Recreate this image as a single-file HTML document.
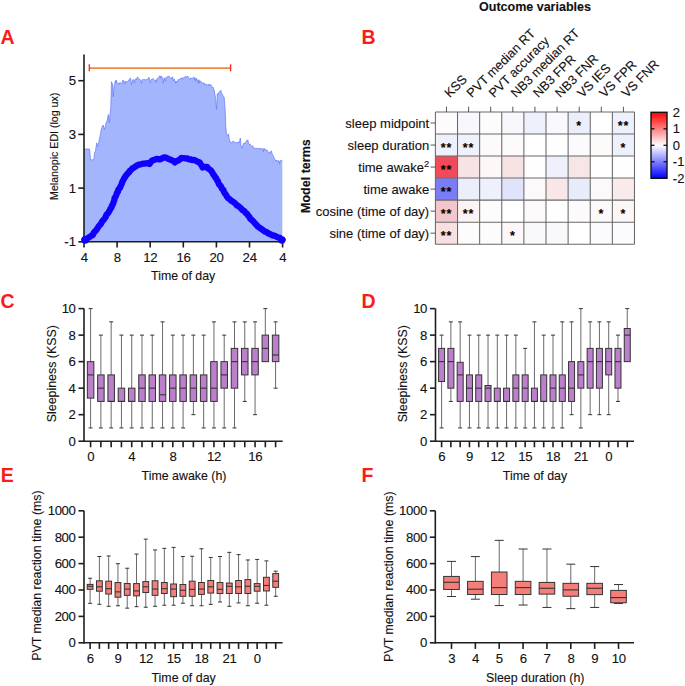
<!DOCTYPE html>
<html><head><meta charset="utf-8"><style>html,body{margin:0;padding:0;background:#fff;}svg{display:block;}text{font-family:"Liberation Sans",sans-serif;stroke:#111;stroke-width:0.12px;paint-order:stroke;}</style></head>
<body><svg width="685" height="686" viewBox="0 0 685 686">
<rect width="685" height="686" fill="#fff"/>
<text x="0.60" y="43.85" font-size="19.5" text-anchor="start" font-weight="bold" fill="#ff1a1a" style="stroke:none">A</text>
<g transform="translate(0,0.8)">
<polygon points="84.00,148.20 84.50,148.20 85.00,148.20 85.50,148.20 86.00,148.20 86.50,148.20 87.00,148.20 87.50,148.20 88.00,148.20 88.50,148.20 89.00,148.20 89.50,148.20 90.05,153.60 90.60,159.00 91.13,159.00 91.67,159.00 92.20,159.00 92.73,159.00 93.27,159.00 93.80,159.00 94.50,152.40 95.00,150.91 95.50,149.80 96.15,145.87 96.80,142.00 97.50,146.00 98.00,145.28 98.50,143.20 99.00,140.38 99.50,138.00 100.00,135.63 100.50,132.70 101.00,130.18 101.50,127.50 102.07,126.41 102.63,125.03 103.20,124.20 103.85,126.55 104.50,128.80 105.00,126.71 105.50,124.61 106.00,122.20 106.50,121.11 107.00,120.05 107.50,118.00 108.40,113.70 109.30,122.00 110.00,114.00 110.80,106.50 111.50,80.90 112.00,82.63 112.50,82.90 113.30,96.00 114.00,85.50 114.50,83.66 115.00,81.77 115.50,79.60 116.00,82.35 116.50,79.60 117.00,81.78 117.50,82.74 118.00,83.50 118.50,82.65 119.00,83.55 119.50,82.03 120.00,81.81 120.50,82.11 121.00,82.20 121.50,82.52 122.00,82.00 122.50,79.79 123.00,80.00 123.50,79.41 124.00,80.33 124.50,83.30 125.00,81.00 125.50,80.61 126.00,81.61 126.50,80.78 127.00,80.80 127.50,80.61 128.00,80.01 128.50,80.24 129.00,79.00 129.50,78.31 130.00,77.39 130.50,77.30 131.00,80.94 131.50,84.00 132.00,81.53 132.50,79.00 133.00,79.18 133.50,78.80 134.00,80.00 134.50,82.31 135.00,78.94 135.50,78.23 136.00,78.00 136.50,79.05 137.00,77.25 137.50,76.40 138.00,76.49 138.50,77.63 139.00,78.00 139.50,78.26 140.00,78.76 140.50,79.14 141.00,80.00 141.50,82.66 142.00,79.92 142.50,78.75 143.00,79.00 143.50,78.65 144.00,79.13 144.50,78.66 145.00,79.50 145.50,79.05 146.00,79.09 146.50,78.45 147.00,79.17 147.50,78.66 148.00,78.60 148.50,76.82 149.00,76.40 149.50,79.01 150.00,82.00 150.50,81.11 151.00,79.00 151.50,78.35 152.00,78.76 152.50,77.97 153.00,78.00 153.50,78.13 154.00,78.59 154.50,79.35 155.00,80.00 155.50,79.34 156.00,81.74 156.50,79.18 157.00,78.00 157.50,77.38 158.00,77.77 158.50,76.94 159.00,76.29 159.50,75.12 160.00,75.00 160.50,77.36 161.00,75.37 161.50,75.31 162.00,76.50 162.65,79.62 163.30,82.50 164.00,77.00 164.50,78.11 165.00,77.80 165.57,80.37 166.13,76.34 166.70,76.79 167.27,75.91 167.83,75.84 168.40,75.20 168.92,75.31 169.44,76.28 169.96,76.61 170.48,77.50 171.00,78.00 171.50,76.74 172.00,77.43 172.50,76.00 173.00,79.95 173.50,79.93 174.00,77.98 174.50,79.06 175.00,80.00 175.50,82.30 176.00,80.66 176.50,82.00 177.00,80.22 177.50,80.64 178.00,79.00 178.50,78.75 179.00,78.17 179.50,78.51 180.00,78.00 180.50,77.58 181.00,77.36 181.50,77.60 182.00,78.56 182.50,76.94 183.00,77.00 183.50,77.26 184.00,77.04 184.50,76.13 185.00,76.00 185.50,75.99 186.00,75.86 186.50,75.93 187.00,76.06 187.50,75.23 188.00,76.00 188.50,76.53 189.00,78.12 189.50,78.00 190.00,78.57 190.50,77.29 191.00,76.89 191.50,77.72 192.00,77.81 192.50,77.56 193.00,77.00 193.50,76.45 194.00,76.44 194.50,79.22 195.00,76.95 195.50,80.36 196.00,78.00 196.50,77.57 197.00,78.81 197.50,79.56 198.00,82.46 198.50,79.27 199.00,78.79 199.50,82.34 200.00,80.00 200.50,80.62 201.00,80.54 201.50,81.05 202.00,82.00 202.50,82.62 203.00,82.09 203.50,82.23 204.00,81.92 204.50,83.68 205.00,83.00 205.50,83.61 206.00,83.68 206.50,83.81 207.00,83.64 207.50,84.55 208.00,84.00 208.50,83.27 209.00,84.75 209.50,83.90 210.00,83.43 210.50,84.00 211.00,84.13 211.50,85.00 212.00,86.00 212.50,86.68 213.00,86.30 213.50,87.00 214.00,88.95 214.50,91.00 215.10,94.90 215.70,98.70 216.60,108.60 217.30,93.00 217.87,94.36 218.43,92.12 219.00,92.00 219.60,90.92 220.20,90.83 220.80,89.50 221.40,92.13 222.00,93.00 222.55,94.08 223.10,95.40 223.65,95.80 224.20,96.60 224.70,103.43 225.20,110.00 225.70,125.00 226.50,133.20 227.00,133.92 227.50,135.00 228.00,134.83 228.50,133.00 229.20,138.30 230.00,141.00 230.50,141.01 231.00,142.00 231.60,142.02 232.20,142.08 232.80,140.41 233.40,140.50 233.95,140.57 234.50,141.50 235.00,141.87 235.50,142.22 236.00,141.50 236.50,142.32 237.00,141.70 237.50,142.00 238.03,141.00 238.55,142.10 239.07,140.99 239.60,141.00 240.30,137.30 241.00,145.00 241.80,146.50 242.37,147.49 242.93,144.05 243.50,143.00 244.00,142.14 244.50,143.15 245.00,142.00 245.50,141.58 246.00,141.00 246.50,139.84 247.00,139.50 247.50,139.05 248.00,140.00 248.50,142.50 249.00,143.40 249.50,143.63 250.00,143.00 250.50,144.74 251.00,145.50 251.50,144.97 252.00,145.44 252.50,145.00 253.00,145.58 253.50,147.00 254.00,148.00 254.50,147.40 255.00,147.50 255.50,147.52 256.00,147.96 256.50,147.73 257.00,147.91 257.50,147.10 258.00,147.99 258.50,148.53 259.00,147.48 259.50,148.00 260.00,148.12 260.50,147.56 261.00,147.15 261.50,148.42 262.00,148.00 262.50,148.49 263.00,147.70 263.50,151.12 264.00,147.79 264.50,148.05 265.00,148.20 265.50,148.93 266.00,148.50 266.50,149.75 267.00,149.34 267.50,149.68 268.00,151.00 268.50,152.41 269.00,153.00 269.50,151.44 270.00,151.00 270.50,151.10 271.00,150.78 271.50,150.00 272.00,153.00 272.50,153.36 273.00,155.00 273.50,155.45 274.00,157.00 274.50,158.12 275.00,158.55 275.50,160.00 276.00,159.15 276.50,160.70 277.00,159.79 277.50,160.15 278.00,160.86 278.50,159.64 279.00,159.97 279.50,163.33 280.00,160.29 280.50,160.04 281.00,160.00 281.65,159.20 282.30,159.50 282.30,241.00 84.00,241.00" fill="#a2b5fd" stroke="none"/>
<polyline points="84.00,148.20 84.50,148.20 85.00,148.20 85.50,148.20 86.00,148.20 86.50,148.20 87.00,148.20 87.50,148.20 88.00,148.20 88.50,148.20 89.00,148.20 89.50,148.20 90.05,153.60 90.60,159.00 91.13,159.00 91.67,159.00 92.20,159.00 92.73,159.00 93.27,159.00 93.80,159.00 94.50,152.40 95.00,150.91 95.50,149.80 96.15,145.87 96.80,142.00 97.50,146.00 98.00,145.28 98.50,143.20 99.00,140.38 99.50,138.00 100.00,135.63 100.50,132.70 101.00,130.18 101.50,127.50 102.07,126.41 102.63,125.03 103.20,124.20 103.85,126.55 104.50,128.80 105.00,126.71 105.50,124.61 106.00,122.20 106.50,121.11 107.00,120.05 107.50,118.00 108.40,113.70 109.30,122.00 110.00,114.00 110.80,106.50 111.50,80.90 112.00,82.63 112.50,82.90 113.30,96.00 114.00,85.50 114.50,83.66 115.00,81.77 115.50,79.60 116.00,82.35 116.50,79.60 117.00,81.78 117.50,82.74 118.00,83.50 118.50,82.65 119.00,83.55 119.50,82.03 120.00,81.81 120.50,82.11 121.00,82.20 121.50,82.52 122.00,82.00 122.50,79.79 123.00,80.00 123.50,79.41 124.00,80.33 124.50,83.30 125.00,81.00 125.50,80.61 126.00,81.61 126.50,80.78 127.00,80.80 127.50,80.61 128.00,80.01 128.50,80.24 129.00,79.00 129.50,78.31 130.00,77.39 130.50,77.30 131.00,80.94 131.50,84.00 132.00,81.53 132.50,79.00 133.00,79.18 133.50,78.80 134.00,80.00 134.50,82.31 135.00,78.94 135.50,78.23 136.00,78.00 136.50,79.05 137.00,77.25 137.50,76.40 138.00,76.49 138.50,77.63 139.00,78.00 139.50,78.26 140.00,78.76 140.50,79.14 141.00,80.00 141.50,82.66 142.00,79.92 142.50,78.75 143.00,79.00 143.50,78.65 144.00,79.13 144.50,78.66 145.00,79.50 145.50,79.05 146.00,79.09 146.50,78.45 147.00,79.17 147.50,78.66 148.00,78.60 148.50,76.82 149.00,76.40 149.50,79.01 150.00,82.00 150.50,81.11 151.00,79.00 151.50,78.35 152.00,78.76 152.50,77.97 153.00,78.00 153.50,78.13 154.00,78.59 154.50,79.35 155.00,80.00 155.50,79.34 156.00,81.74 156.50,79.18 157.00,78.00 157.50,77.38 158.00,77.77 158.50,76.94 159.00,76.29 159.50,75.12 160.00,75.00 160.50,77.36 161.00,75.37 161.50,75.31 162.00,76.50 162.65,79.62 163.30,82.50 164.00,77.00 164.50,78.11 165.00,77.80 165.57,80.37 166.13,76.34 166.70,76.79 167.27,75.91 167.83,75.84 168.40,75.20 168.92,75.31 169.44,76.28 169.96,76.61 170.48,77.50 171.00,78.00 171.50,76.74 172.00,77.43 172.50,76.00 173.00,79.95 173.50,79.93 174.00,77.98 174.50,79.06 175.00,80.00 175.50,82.30 176.00,80.66 176.50,82.00 177.00,80.22 177.50,80.64 178.00,79.00 178.50,78.75 179.00,78.17 179.50,78.51 180.00,78.00 180.50,77.58 181.00,77.36 181.50,77.60 182.00,78.56 182.50,76.94 183.00,77.00 183.50,77.26 184.00,77.04 184.50,76.13 185.00,76.00 185.50,75.99 186.00,75.86 186.50,75.93 187.00,76.06 187.50,75.23 188.00,76.00 188.50,76.53 189.00,78.12 189.50,78.00 190.00,78.57 190.50,77.29 191.00,76.89 191.50,77.72 192.00,77.81 192.50,77.56 193.00,77.00 193.50,76.45 194.00,76.44 194.50,79.22 195.00,76.95 195.50,80.36 196.00,78.00 196.50,77.57 197.00,78.81 197.50,79.56 198.00,82.46 198.50,79.27 199.00,78.79 199.50,82.34 200.00,80.00 200.50,80.62 201.00,80.54 201.50,81.05 202.00,82.00 202.50,82.62 203.00,82.09 203.50,82.23 204.00,81.92 204.50,83.68 205.00,83.00 205.50,83.61 206.00,83.68 206.50,83.81 207.00,83.64 207.50,84.55 208.00,84.00 208.50,83.27 209.00,84.75 209.50,83.90 210.00,83.43 210.50,84.00 211.00,84.13 211.50,85.00 212.00,86.00 212.50,86.68 213.00,86.30 213.50,87.00 214.00,88.95 214.50,91.00 215.10,94.90 215.70,98.70 216.60,108.60 217.30,93.00 217.87,94.36 218.43,92.12 219.00,92.00 219.60,90.92 220.20,90.83 220.80,89.50 221.40,92.13 222.00,93.00 222.55,94.08 223.10,95.40 223.65,95.80 224.20,96.60 224.70,103.43 225.20,110.00 225.70,125.00 226.50,133.20 227.00,133.92 227.50,135.00 228.00,134.83 228.50,133.00 229.20,138.30 230.00,141.00 230.50,141.01 231.00,142.00 231.60,142.02 232.20,142.08 232.80,140.41 233.40,140.50 233.95,140.57 234.50,141.50 235.00,141.87 235.50,142.22 236.00,141.50 236.50,142.32 237.00,141.70 237.50,142.00 238.03,141.00 238.55,142.10 239.07,140.99 239.60,141.00 240.30,137.30 241.00,145.00 241.80,146.50 242.37,147.49 242.93,144.05 243.50,143.00 244.00,142.14 244.50,143.15 245.00,142.00 245.50,141.58 246.00,141.00 246.50,139.84 247.00,139.50 247.50,139.05 248.00,140.00 248.50,142.50 249.00,143.40 249.50,143.63 250.00,143.00 250.50,144.74 251.00,145.50 251.50,144.97 252.00,145.44 252.50,145.00 253.00,145.58 253.50,147.00 254.00,148.00 254.50,147.40 255.00,147.50 255.50,147.52 256.00,147.96 256.50,147.73 257.00,147.91 257.50,147.10 258.00,147.99 258.50,148.53 259.00,147.48 259.50,148.00 260.00,148.12 260.50,147.56 261.00,147.15 261.50,148.42 262.00,148.00 262.50,148.49 263.00,147.70 263.50,151.12 264.00,147.79 264.50,148.05 265.00,148.20 265.50,148.93 266.00,148.50 266.50,149.75 267.00,149.34 267.50,149.68 268.00,151.00 268.50,152.41 269.00,153.00 269.50,151.44 270.00,151.00 270.50,151.10 271.00,150.78 271.50,150.00 272.00,153.00 272.50,153.36 273.00,155.00 273.50,155.45 274.00,157.00 274.50,158.12 275.00,158.55 275.50,160.00 276.00,159.15 276.50,160.70 277.00,159.79 277.50,160.15 278.00,160.86 278.50,159.64 279.00,159.97 279.50,163.33 280.00,160.29 280.50,160.04 281.00,160.00 281.65,159.20 282.30,159.50" fill="none" stroke="#6a7cf6" stroke-width="0.75"/>
</g>
<line x1="89.30" y1="68.10" x2="230.60" y2="68.10" stroke="#f0883f" stroke-width="1.8"/>
<line x1="89.30" y1="64.30" x2="89.30" y2="71.30" stroke="#ff2020" stroke-width="1.3"/>
<line x1="230.60" y1="64.30" x2="230.60" y2="71.30" stroke="#ff2020" stroke-width="1.3"/>
<line x1="84.00" y1="54.50" x2="84.00" y2="242.45" stroke="#1e1e1e" stroke-width="1.6"/>
<line x1="83.35" y1="241.80" x2="283.25" y2="241.80" stroke="#1e1e1e" stroke-width="1.6"/>
<line x1="78.30" y1="80.70" x2="84.00" y2="80.70" stroke="#1e1e1e" stroke-width="1.6"/>
<text x="76.00" y="85.30" font-size="13.2" text-anchor="end" fill="#111">5</text>
<line x1="78.30" y1="134.40" x2="84.00" y2="134.40" stroke="#1e1e1e" stroke-width="1.6"/>
<text x="76.00" y="139.00" font-size="13.2" text-anchor="end" fill="#111">3</text>
<line x1="78.30" y1="188.10" x2="84.00" y2="188.10" stroke="#1e1e1e" stroke-width="1.6"/>
<text x="76.00" y="192.70" font-size="13.2" text-anchor="end" fill="#111">1</text>
<line x1="78.30" y1="241.80" x2="84.00" y2="241.80" stroke="#1e1e1e" stroke-width="1.6"/>
<text x="76.00" y="246.40" font-size="13.2" text-anchor="end" fill="#111">-1</text>
<line x1="84.00" y1="241.80" x2="84.00" y2="247.50" stroke="#1e1e1e" stroke-width="1.6"/>
<text x="84.15" y="261.80" font-size="13.2" text-anchor="middle" fill="#111" letter-spacing="-0.3">4</text>
<line x1="117.10" y1="241.80" x2="117.10" y2="247.50" stroke="#1e1e1e" stroke-width="1.6"/>
<text x="117.25" y="261.80" font-size="13.2" text-anchor="middle" fill="#111" letter-spacing="-0.3">8</text>
<line x1="150.20" y1="241.80" x2="150.20" y2="247.50" stroke="#1e1e1e" stroke-width="1.6"/>
<text x="150.35" y="261.80" font-size="13.2" text-anchor="middle" fill="#111" letter-spacing="-0.3">12</text>
<line x1="183.30" y1="241.80" x2="183.30" y2="247.50" stroke="#1e1e1e" stroke-width="1.6"/>
<text x="183.45" y="261.80" font-size="13.2" text-anchor="middle" fill="#111" letter-spacing="-0.3">16</text>
<line x1="216.40" y1="241.80" x2="216.40" y2="247.50" stroke="#1e1e1e" stroke-width="1.6"/>
<text x="216.55" y="261.80" font-size="13.2" text-anchor="middle" fill="#111" letter-spacing="-0.3">20</text>
<line x1="249.50" y1="241.80" x2="249.50" y2="247.50" stroke="#1e1e1e" stroke-width="1.6"/>
<text x="249.65" y="261.80" font-size="13.2" text-anchor="middle" fill="#111" letter-spacing="-0.3">24</text>
<line x1="282.60" y1="241.80" x2="282.60" y2="247.50" stroke="#1e1e1e" stroke-width="1.6"/>
<text x="282.75" y="261.80" font-size="13.2" text-anchor="middle" fill="#111" letter-spacing="-0.3">4</text>
<text x="183.20" y="280.00" font-size="12.4" text-anchor="middle" fill="#111">Time of day</text>
<text x="58.40" y="146.30" font-size="10.6" text-anchor="middle" fill="#111" transform="rotate(-90 58.4 146.3)">Melanopic EDI (log ux)</text>
<polyline points="84.50,239.80 86.20,238.90 87.98,237.90 89.50,237.00 91.50,235.67 92.80,235.00 93.46,233.37 94.69,231.62 96.00,230.50 96.94,229.17 98.38,226.84 99.30,225.50 100.75,224.19 101.65,222.36 102.50,221.00 103.96,219.44 105.00,217.99 105.90,216.50 106.39,214.90 107.33,213.83 108.50,212.50 109.40,210.97 110.26,209.13 111.40,207.50 111.85,206.03 113.06,203.71 113.60,202.00 114.39,199.92 114.55,198.07 115.70,196.50 116.43,194.56 116.97,192.87 118.00,191.50 118.27,189.82 119.10,188.82 120.10,187.50 120.71,185.92 121.60,184.10 121.99,182.91 122.31,181.92 123.40,180.00 124.11,178.36 124.98,177.20 125.60,176.00 126.90,174.45 127.80,173.30 129.26,172.02 129.71,170.89 131.00,170.00 132.41,168.38 134.10,167.50 135.83,166.25 136.98,165.53 138.75,164.68 140.70,164.30 142.76,163.70 144.53,163.61 145.80,163.30 148.00,163.23 149.40,164.00 150.90,162.13 151.60,161.00 152.95,160.17 154.85,159.70 156.70,158.80 158.57,159.26 160.00,159.30 161.91,158.51 162.99,157.72 164.60,157.30 166.19,157.74 168.40,158.86 170.00,159.50 171.62,160.16 173.46,161.00 174.90,162.40 176.36,161.16 177.26,160.95 178.93,160.10 180.44,158.83 181.40,158.00 182.78,158.05 184.08,158.24 186.00,158.50 187.70,158.48 188.89,159.30 190.90,159.50 192.29,160.06 194.38,159.93 196.00,160.80 197.60,161.66 199.70,162.40 200.76,164.36 201.67,165.52 202.60,167.50 205.09,166.80 207.00,166.80 208.06,168.39 209.29,169.24 211.00,170.50 211.90,171.93 212.84,173.43 213.26,174.49 214.15,175.35 215.00,177.00 216.16,178.24 216.79,179.97 217.83,181.12 218.50,183.00 219.01,184.38 220.51,185.60 221.20,187.00 221.88,188.53 223.51,190.19 224.00,192.00 224.75,193.27 226.39,195.34 227.00,196.70 228.43,198.35 229.70,199.16 231.00,200.50 233.00,201.65 234.45,202.75 235.80,204.00 237.01,205.56 238.32,205.97 240.00,207.50 241.55,208.89 242.65,210.25 244.60,211.30 245.59,212.92 247.09,213.91 248.00,215.50 249.22,216.62 250.29,218.74 251.90,220.00 253.53,221.67 254.19,222.36 255.50,224.00 256.76,225.17 257.84,226.58 259.20,227.40 260.98,228.71 261.88,229.24 263.50,230.50 264.67,231.43 266.53,232.00 268.00,233.20 269.91,233.94 271.76,234.99 273.00,235.50 274.37,235.64 276.24,236.50 277.55,237.27 279.60,237.80 280.82,239.07 282.50,239.80" fill="none" stroke="#1200ff" stroke-width="6.3" stroke-linecap="round" stroke-linejoin="round"/>
<circle cx="85.2" cy="239.8" r="3.9" fill="#1200ff"/><circle cx="281.8" cy="240" r="3.7" fill="#1200ff"/>
<text x="361.50" y="43.80" font-size="19.5" text-anchor="start" font-weight="bold" fill="#ff1a1a" style="stroke:none">B</text>
<text x="535.00" y="10.60" font-size="12.5" text-anchor="middle" font-weight="bold" fill="#111">Outcome variables</text>
<rect x="435.40" y="112.00" width="22.12" height="22.03" fill="#fdfbfc"/>
<rect x="457.52" y="112.00" width="22.12" height="22.03" fill="#f7f7fc"/>
<rect x="479.64" y="112.00" width="22.12" height="22.03" fill="#fcfcfd"/>
<rect x="501.76" y="112.00" width="22.12" height="22.03" fill="#f8f8fc"/>
<rect x="523.88" y="112.00" width="22.12" height="22.03" fill="#eef0fb"/>
<rect x="546.00" y="112.00" width="22.12" height="22.03" fill="#f8f8fd"/>
<rect x="568.12" y="112.00" width="22.12" height="22.03" fill="#eceffb"/>
<rect x="590.24" y="112.00" width="22.12" height="22.03" fill="#ffffff"/>
<rect x="612.36" y="112.00" width="22.12" height="22.03" fill="#eef0fb"/>
<rect x="435.40" y="134.03" width="22.12" height="22.03" fill="#eef1fb"/>
<rect x="457.52" y="134.03" width="22.12" height="22.03" fill="#f0f2fb"/>
<rect x="479.64" y="134.03" width="22.12" height="22.03" fill="#fcfafb"/>
<rect x="501.76" y="134.03" width="22.12" height="22.03" fill="#fcfafb"/>
<rect x="523.88" y="134.03" width="22.12" height="22.03" fill="#ffffff"/>
<rect x="546.00" y="134.03" width="22.12" height="22.03" fill="#fefefe"/>
<rect x="568.12" y="134.03" width="22.12" height="22.03" fill="#fbfbfd"/>
<rect x="590.24" y="134.03" width="22.12" height="22.03" fill="#fdfafa"/>
<rect x="612.36" y="134.03" width="22.12" height="22.03" fill="#eef1fc"/>
<rect x="435.40" y="156.06" width="22.12" height="22.03" fill="#f04b5a"/>
<rect x="457.52" y="156.06" width="22.12" height="22.03" fill="#f7e3e5"/>
<rect x="479.64" y="156.06" width="22.12" height="22.03" fill="#fcf8f8"/>
<rect x="501.76" y="156.06" width="22.12" height="22.03" fill="#f7e2e4"/>
<rect x="523.88" y="156.06" width="22.12" height="22.03" fill="#fefefe"/>
<rect x="546.00" y="156.06" width="22.12" height="22.03" fill="#eef1fc"/>
<rect x="568.12" y="156.06" width="22.12" height="22.03" fill="#f8e6e7"/>
<rect x="590.24" y="156.06" width="22.12" height="22.03" fill="#ffffff"/>
<rect x="612.36" y="156.06" width="22.12" height="22.03" fill="#fefefe"/>
<rect x="435.40" y="178.09" width="22.12" height="22.03" fill="#7b7cf3"/>
<rect x="457.52" y="178.09" width="22.12" height="22.03" fill="#eceefa"/>
<rect x="479.64" y="178.09" width="22.12" height="22.03" fill="#eef0fb"/>
<rect x="501.76" y="178.09" width="22.12" height="22.03" fill="#e0e4fa"/>
<rect x="523.88" y="178.09" width="22.12" height="22.03" fill="#fcf9fa"/>
<rect x="546.00" y="178.09" width="22.12" height="22.03" fill="#f9e6e8"/>
<rect x="568.12" y="178.09" width="22.12" height="22.03" fill="#e8ecfa"/>
<rect x="590.24" y="178.09" width="22.12" height="22.03" fill="#fcf9fa"/>
<rect x="612.36" y="178.09" width="22.12" height="22.03" fill="#f9eaeb"/>
<rect x="435.40" y="200.12" width="22.12" height="22.03" fill="#f2c6cb"/>
<rect x="457.52" y="200.12" width="22.12" height="22.03" fill="#fcf4f4"/>
<rect x="479.64" y="200.12" width="22.12" height="22.03" fill="#fcfcfd"/>
<rect x="501.76" y="200.12" width="22.12" height="22.03" fill="#ffffff"/>
<rect x="523.88" y="200.12" width="22.12" height="22.03" fill="#fcf9fa"/>
<rect x="546.00" y="200.12" width="22.12" height="22.03" fill="#fefefe"/>
<rect x="568.12" y="200.12" width="22.12" height="22.03" fill="#fcfafb"/>
<rect x="590.24" y="200.12" width="22.12" height="22.03" fill="#fcf9fa"/>
<rect x="612.36" y="200.12" width="22.12" height="22.03" fill="#fcf6f7"/>
<rect x="435.40" y="222.15" width="22.12" height="22.03" fill="#f8e0e1"/>
<rect x="457.52" y="222.15" width="22.12" height="22.03" fill="#fdfcfc"/>
<rect x="479.64" y="222.15" width="22.12" height="22.03" fill="#fcfcfd"/>
<rect x="501.76" y="222.15" width="22.12" height="22.03" fill="#fcf8f9"/>
<rect x="523.88" y="222.15" width="22.12" height="22.03" fill="#f9f9fc"/>
<rect x="546.00" y="222.15" width="22.12" height="22.03" fill="#f9f9fc"/>
<rect x="568.12" y="222.15" width="22.12" height="22.03" fill="#ffffff"/>
<rect x="590.24" y="222.15" width="22.12" height="22.03" fill="#fbfbfd"/>
<rect x="612.36" y="222.15" width="22.12" height="22.03" fill="#fbfbfd"/>
<line x1="435.40" y1="112.00" x2="435.40" y2="244.18" stroke="#686868" stroke-width="1.05"/>
<line x1="457.52" y1="112.00" x2="457.52" y2="244.18" stroke="#686868" stroke-width="1.05"/>
<line x1="479.64" y1="112.00" x2="479.64" y2="244.18" stroke="#686868" stroke-width="1.05"/>
<line x1="501.76" y1="112.00" x2="501.76" y2="244.18" stroke="#686868" stroke-width="1.05"/>
<line x1="523.88" y1="112.00" x2="523.88" y2="244.18" stroke="#686868" stroke-width="1.05"/>
<line x1="546.00" y1="112.00" x2="546.00" y2="244.18" stroke="#686868" stroke-width="1.05"/>
<line x1="568.12" y1="112.00" x2="568.12" y2="244.18" stroke="#686868" stroke-width="1.05"/>
<line x1="590.24" y1="112.00" x2="590.24" y2="244.18" stroke="#686868" stroke-width="1.05"/>
<line x1="612.36" y1="112.00" x2="612.36" y2="244.18" stroke="#686868" stroke-width="1.05"/>
<line x1="634.48" y1="112.00" x2="634.48" y2="244.18" stroke="#686868" stroke-width="1.05"/>
<line x1="435.40" y1="112.00" x2="634.48" y2="112.00" stroke="#686868" stroke-width="1.05"/>
<line x1="435.40" y1="134.03" x2="634.48" y2="134.03" stroke="#686868" stroke-width="1.05"/>
<line x1="435.40" y1="156.06" x2="634.48" y2="156.06" stroke="#686868" stroke-width="1.05"/>
<line x1="435.40" y1="178.09" x2="634.48" y2="178.09" stroke="#686868" stroke-width="1.05"/>
<line x1="435.40" y1="200.12" x2="634.48" y2="200.12" stroke="#686868" stroke-width="1.05"/>
<line x1="435.40" y1="222.15" x2="634.48" y2="222.15" stroke="#686868" stroke-width="1.05"/>
<line x1="435.40" y1="244.18" x2="634.48" y2="244.18" stroke="#686868" stroke-width="1.05"/>
<text x="579.18" y="130.22" font-size="12.5" text-anchor="middle" font-weight="bold" fill="#000" letter-spacing="0.9">*</text>
<text x="623.42" y="130.22" font-size="12.5" text-anchor="middle" font-weight="bold" fill="#000" letter-spacing="0.9">**</text>
<text x="446.46" y="152.25" font-size="12.5" text-anchor="middle" font-weight="bold" fill="#000" letter-spacing="0.9">**</text>
<text x="468.58" y="152.25" font-size="12.5" text-anchor="middle" font-weight="bold" fill="#000" letter-spacing="0.9">**</text>
<text x="623.42" y="152.25" font-size="12.5" text-anchor="middle" font-weight="bold" fill="#000" letter-spacing="0.9">*</text>
<text x="446.46" y="174.27" font-size="12.5" text-anchor="middle" font-weight="bold" fill="#000" letter-spacing="0.9">**</text>
<text x="446.46" y="196.31" font-size="12.5" text-anchor="middle" font-weight="bold" fill="#000" letter-spacing="0.9">**</text>
<text x="446.46" y="218.33" font-size="12.5" text-anchor="middle" font-weight="bold" fill="#000" letter-spacing="0.9">**</text>
<text x="468.58" y="218.33" font-size="12.5" text-anchor="middle" font-weight="bold" fill="#000" letter-spacing="0.9">**</text>
<text x="601.30" y="218.33" font-size="12.5" text-anchor="middle" font-weight="bold" fill="#000" letter-spacing="0.9">*</text>
<text x="623.42" y="218.33" font-size="12.5" text-anchor="middle" font-weight="bold" fill="#000" letter-spacing="0.9">*</text>
<text x="446.46" y="240.37" font-size="12.5" text-anchor="middle" font-weight="bold" fill="#000" letter-spacing="0.9">**</text>
<text x="512.82" y="240.37" font-size="12.5" text-anchor="middle" font-weight="bold" fill="#000" letter-spacing="0.9">*</text>
<line x1="446.46" y1="106.70" x2="446.46" y2="112.00" stroke="#444" stroke-width="0.9"/>
<text x="449.76" y="98.20" font-size="12.8" text-anchor="start" fill="#111" transform="rotate(-45 449.76 98.2)">KSS</text>
<line x1="468.58" y1="106.70" x2="468.58" y2="112.00" stroke="#444" stroke-width="0.9"/>
<text x="471.88" y="98.20" font-size="12.8" text-anchor="start" fill="#111" transform="rotate(-45 471.88 98.2)">PVT median RT</text>
<line x1="490.70" y1="106.70" x2="490.70" y2="112.00" stroke="#444" stroke-width="0.9"/>
<text x="494.00" y="98.20" font-size="12.8" text-anchor="start" fill="#111" transform="rotate(-45 494.0 98.2)">PVT accuracy</text>
<line x1="512.82" y1="106.70" x2="512.82" y2="112.00" stroke="#444" stroke-width="0.9"/>
<text x="516.12" y="98.20" font-size="12.8" text-anchor="start" fill="#111" transform="rotate(-45 516.1199999999999 98.2)">NB3 median RT</text>
<line x1="534.94" y1="106.70" x2="534.94" y2="112.00" stroke="#444" stroke-width="0.9"/>
<text x="538.24" y="98.20" font-size="12.8" text-anchor="start" fill="#111" transform="rotate(-45 538.2399999999999 98.2)">NB3 FPR</text>
<line x1="557.06" y1="106.70" x2="557.06" y2="112.00" stroke="#444" stroke-width="0.9"/>
<text x="560.36" y="98.20" font-size="12.8" text-anchor="start" fill="#111" transform="rotate(-45 560.3599999999999 98.2)">NB3 FNR</text>
<line x1="579.18" y1="106.70" x2="579.18" y2="112.00" stroke="#444" stroke-width="0.9"/>
<text x="582.48" y="98.20" font-size="12.8" text-anchor="start" fill="#111" transform="rotate(-45 582.4799999999999 98.2)">VS IES</text>
<line x1="601.30" y1="106.70" x2="601.30" y2="112.00" stroke="#444" stroke-width="0.9"/>
<text x="604.60" y="98.20" font-size="12.8" text-anchor="start" fill="#111" transform="rotate(-45 604.5999999999999 98.2)">VS FPR</text>
<line x1="623.42" y1="106.70" x2="623.42" y2="112.00" stroke="#444" stroke-width="0.9"/>
<text x="626.72" y="98.20" font-size="12.8" text-anchor="start" fill="#111" transform="rotate(-45 626.7199999999999 98.2)">VS FNR</text>
<line x1="430.60" y1="123.02" x2="435.40" y2="123.02" stroke="#444" stroke-width="0.9"/>
<text x="429.20" y="128.22" font-size="13" text-anchor="end" fill="#111">sleep midpoint</text>
<line x1="430.60" y1="145.05" x2="435.40" y2="145.05" stroke="#444" stroke-width="0.9"/>
<text x="429.20" y="150.25" font-size="13" text-anchor="end" fill="#111">sleep duration</text>
<line x1="430.60" y1="167.07" x2="435.40" y2="167.07" stroke="#444" stroke-width="0.9"/>
<text x="429.20" y="172.27" font-size="13" text-anchor="end" fill="#111">time awake<tspan font-size="9.3" dy="-5.3">2</tspan></text>
<line x1="430.60" y1="189.11" x2="435.40" y2="189.11" stroke="#444" stroke-width="0.9"/>
<text x="429.20" y="194.31" font-size="13" text-anchor="end" fill="#111">time awake</text>
<line x1="430.60" y1="211.13" x2="435.40" y2="211.13" stroke="#444" stroke-width="0.9"/>
<text x="429.20" y="216.33" font-size="13" text-anchor="end" fill="#111">cosine (time of day)</text>
<line x1="430.60" y1="233.17" x2="435.40" y2="233.17" stroke="#444" stroke-width="0.9"/>
<text x="429.20" y="238.37" font-size="13" text-anchor="end" fill="#111">sine (time of day)</text>
<text x="309.80" y="176.10" font-size="12.5" text-anchor="middle" font-weight="bold" fill="#111" transform="rotate(-90 309.8 176.1)">Model terms</text>
<defs><linearGradient id="cb" x1="0" y1="0" x2="0" y2="1"><stop offset="0" stop-color="#ff0000"/><stop offset="0.5" stop-color="#ffffff"/><stop offset="1" stop-color="#0000ff"/></linearGradient></defs>
<rect x="651" y="112.3" width="16" height="66" fill="url(#cb)" stroke="#111" stroke-width="1.4"/>
<line x1="651.00" y1="128.80" x2="654.50" y2="128.80" stroke="#111" stroke-width="1.3"/>
<line x1="663.50" y1="128.80" x2="667.00" y2="128.80" stroke="#111" stroke-width="1.3"/>
<line x1="651.00" y1="145.30" x2="654.50" y2="145.30" stroke="#111" stroke-width="1.3"/>
<line x1="663.50" y1="145.30" x2="667.00" y2="145.30" stroke="#111" stroke-width="1.3"/>
<line x1="651.00" y1="161.80" x2="654.50" y2="161.80" stroke="#111" stroke-width="1.3"/>
<line x1="663.50" y1="161.80" x2="667.00" y2="161.80" stroke="#111" stroke-width="1.3"/>
<text x="672.80" y="117.20" font-size="13" text-anchor="start" fill="#111">2</text>
<text x="672.80" y="133.40" font-size="13" text-anchor="start" fill="#111">1</text>
<text x="672.80" y="149.90" font-size="13" text-anchor="start" fill="#111">0</text>
<text x="672.80" y="166.40" font-size="13" text-anchor="start" fill="#111">-1</text>
<text x="672.80" y="182.90" font-size="13" text-anchor="start" fill="#111">-2</text>
<text x="0.60" y="307.70" font-size="19.5" text-anchor="start" font-weight="bold" fill="#ff1a1a" style="stroke:none">C</text>
<line x1="90.60" y1="308.60" x2="90.60" y2="361.64" stroke="#6a6a6a" stroke-width="1.0"/>
<line x1="88.60" y1="308.60" x2="92.60" y2="308.60" stroke="#333" stroke-width="1.0"/>
<line x1="90.60" y1="398.11" x2="90.60" y2="427.94" stroke="#6a6a6a" stroke-width="1.0"/>
<line x1="88.60" y1="427.94" x2="92.60" y2="427.94" stroke="#333" stroke-width="1.0"/>
<rect x="87.35" y="361.64" width="6.50" height="36.47" fill="#bb7fcc" stroke="#333" stroke-width="1"/>
<line x1="87.35" y1="374.90" x2="93.85" y2="374.90" stroke="#333" stroke-width="1.1"/>
<line x1="100.88" y1="335.12" x2="100.88" y2="374.90" stroke="#6a6a6a" stroke-width="1.0"/>
<line x1="98.88" y1="335.12" x2="102.88" y2="335.12" stroke="#333" stroke-width="1.0"/>
<line x1="100.88" y1="401.42" x2="100.88" y2="427.94" stroke="#6a6a6a" stroke-width="1.0"/>
<line x1="98.88" y1="427.94" x2="102.88" y2="427.94" stroke="#333" stroke-width="1.0"/>
<rect x="97.63" y="374.90" width="6.50" height="26.52" fill="#bb7fcc" stroke="#333" stroke-width="1"/>
<line x1="97.63" y1="388.16" x2="104.13" y2="388.16" stroke="#333" stroke-width="1.1"/>
<line x1="111.16" y1="321.86" x2="111.16" y2="374.90" stroke="#6a6a6a" stroke-width="1.0"/>
<line x1="109.16" y1="321.86" x2="113.16" y2="321.86" stroke="#333" stroke-width="1.0"/>
<line x1="111.16" y1="401.42" x2="111.16" y2="427.94" stroke="#6a6a6a" stroke-width="1.0"/>
<line x1="109.16" y1="427.94" x2="113.16" y2="427.94" stroke="#333" stroke-width="1.0"/>
<rect x="107.91" y="374.90" width="6.50" height="26.52" fill="#bb7fcc" stroke="#333" stroke-width="1"/>
<line x1="107.91" y1="401.42" x2="114.41" y2="401.42" stroke="#333" stroke-width="1.1"/>
<line x1="121.43" y1="335.12" x2="121.43" y2="388.16" stroke="#6a6a6a" stroke-width="1.0"/>
<line x1="119.43" y1="335.12" x2="123.43" y2="335.12" stroke="#333" stroke-width="1.0"/>
<line x1="121.43" y1="401.42" x2="121.43" y2="427.94" stroke="#6a6a6a" stroke-width="1.0"/>
<line x1="119.43" y1="427.94" x2="123.43" y2="427.94" stroke="#333" stroke-width="1.0"/>
<rect x="118.18" y="388.16" width="6.50" height="13.26" fill="#bb7fcc" stroke="#333" stroke-width="1"/>
<line x1="118.18" y1="401.42" x2="124.68" y2="401.42" stroke="#333" stroke-width="1.1"/>
<line x1="131.71" y1="335.12" x2="131.71" y2="388.16" stroke="#6a6a6a" stroke-width="1.0"/>
<line x1="129.71" y1="335.12" x2="133.71" y2="335.12" stroke="#333" stroke-width="1.0"/>
<line x1="131.71" y1="401.42" x2="131.71" y2="427.94" stroke="#6a6a6a" stroke-width="1.0"/>
<line x1="129.71" y1="427.94" x2="133.71" y2="427.94" stroke="#333" stroke-width="1.0"/>
<rect x="128.46" y="388.16" width="6.50" height="13.26" fill="#bb7fcc" stroke="#333" stroke-width="1"/>
<line x1="128.46" y1="401.42" x2="134.96" y2="401.42" stroke="#333" stroke-width="1.1"/>
<line x1="141.99" y1="335.12" x2="141.99" y2="374.90" stroke="#6a6a6a" stroke-width="1.0"/>
<line x1="139.99" y1="335.12" x2="143.99" y2="335.12" stroke="#333" stroke-width="1.0"/>
<line x1="141.99" y1="401.42" x2="141.99" y2="427.94" stroke="#6a6a6a" stroke-width="1.0"/>
<line x1="139.99" y1="427.94" x2="143.99" y2="427.94" stroke="#333" stroke-width="1.0"/>
<rect x="138.74" y="374.90" width="6.50" height="26.52" fill="#bb7fcc" stroke="#333" stroke-width="1"/>
<line x1="138.74" y1="388.16" x2="145.24" y2="388.16" stroke="#333" stroke-width="1.1"/>
<line x1="152.27" y1="335.12" x2="152.27" y2="374.90" stroke="#6a6a6a" stroke-width="1.0"/>
<line x1="150.27" y1="335.12" x2="154.27" y2="335.12" stroke="#333" stroke-width="1.0"/>
<line x1="152.27" y1="401.42" x2="152.27" y2="427.94" stroke="#6a6a6a" stroke-width="1.0"/>
<line x1="150.27" y1="427.94" x2="154.27" y2="427.94" stroke="#333" stroke-width="1.0"/>
<rect x="149.02" y="374.90" width="6.50" height="26.52" fill="#bb7fcc" stroke="#333" stroke-width="1"/>
<line x1="149.02" y1="388.16" x2="155.52" y2="388.16" stroke="#333" stroke-width="1.1"/>
<line x1="162.55" y1="321.86" x2="162.55" y2="374.90" stroke="#6a6a6a" stroke-width="1.0"/>
<line x1="160.55" y1="321.86" x2="164.55" y2="321.86" stroke="#333" stroke-width="1.0"/>
<line x1="162.55" y1="401.42" x2="162.55" y2="427.94" stroke="#6a6a6a" stroke-width="1.0"/>
<line x1="160.55" y1="427.94" x2="164.55" y2="427.94" stroke="#333" stroke-width="1.0"/>
<rect x="159.30" y="374.90" width="6.50" height="26.52" fill="#bb7fcc" stroke="#333" stroke-width="1"/>
<line x1="159.30" y1="394.79" x2="165.80" y2="394.79" stroke="#333" stroke-width="1.1"/>
<line x1="172.82" y1="335.12" x2="172.82" y2="374.90" stroke="#6a6a6a" stroke-width="1.0"/>
<line x1="170.82" y1="335.12" x2="174.82" y2="335.12" stroke="#333" stroke-width="1.0"/>
<line x1="172.82" y1="401.42" x2="172.82" y2="427.94" stroke="#6a6a6a" stroke-width="1.0"/>
<line x1="170.82" y1="427.94" x2="174.82" y2="427.94" stroke="#333" stroke-width="1.0"/>
<rect x="169.57" y="374.90" width="6.50" height="26.52" fill="#bb7fcc" stroke="#333" stroke-width="1"/>
<line x1="169.57" y1="388.16" x2="176.07" y2="388.16" stroke="#333" stroke-width="1.1"/>
<line x1="183.10" y1="335.12" x2="183.10" y2="374.90" stroke="#6a6a6a" stroke-width="1.0"/>
<line x1="181.10" y1="335.12" x2="185.10" y2="335.12" stroke="#333" stroke-width="1.0"/>
<line x1="183.10" y1="401.42" x2="183.10" y2="427.94" stroke="#6a6a6a" stroke-width="1.0"/>
<line x1="181.10" y1="427.94" x2="185.10" y2="427.94" stroke="#333" stroke-width="1.0"/>
<rect x="179.85" y="374.90" width="6.50" height="26.52" fill="#bb7fcc" stroke="#333" stroke-width="1"/>
<line x1="179.85" y1="388.16" x2="186.35" y2="388.16" stroke="#333" stroke-width="1.1"/>
<line x1="193.38" y1="335.12" x2="193.38" y2="374.90" stroke="#6a6a6a" stroke-width="1.0"/>
<line x1="191.38" y1="335.12" x2="195.38" y2="335.12" stroke="#333" stroke-width="1.0"/>
<line x1="193.38" y1="401.42" x2="193.38" y2="414.68" stroke="#6a6a6a" stroke-width="1.0"/>
<line x1="191.38" y1="414.68" x2="195.38" y2="414.68" stroke="#333" stroke-width="1.0"/>
<rect x="190.13" y="374.90" width="6.50" height="26.52" fill="#bb7fcc" stroke="#333" stroke-width="1"/>
<line x1="190.13" y1="388.16" x2="196.63" y2="388.16" stroke="#333" stroke-width="1.1"/>
<line x1="203.66" y1="335.12" x2="203.66" y2="374.90" stroke="#6a6a6a" stroke-width="1.0"/>
<line x1="201.66" y1="335.12" x2="205.66" y2="335.12" stroke="#333" stroke-width="1.0"/>
<line x1="203.66" y1="401.42" x2="203.66" y2="427.94" stroke="#6a6a6a" stroke-width="1.0"/>
<line x1="201.66" y1="427.94" x2="205.66" y2="427.94" stroke="#333" stroke-width="1.0"/>
<rect x="200.41" y="374.90" width="6.50" height="26.52" fill="#bb7fcc" stroke="#333" stroke-width="1"/>
<line x1="200.41" y1="388.16" x2="206.91" y2="388.16" stroke="#333" stroke-width="1.1"/>
<line x1="213.94" y1="321.86" x2="213.94" y2="361.64" stroke="#6a6a6a" stroke-width="1.0"/>
<line x1="211.94" y1="321.86" x2="215.94" y2="321.86" stroke="#333" stroke-width="1.0"/>
<line x1="213.94" y1="401.42" x2="213.94" y2="427.94" stroke="#6a6a6a" stroke-width="1.0"/>
<line x1="211.94" y1="427.94" x2="215.94" y2="427.94" stroke="#333" stroke-width="1.0"/>
<rect x="210.69" y="361.64" width="6.50" height="39.78" fill="#bb7fcc" stroke="#333" stroke-width="1"/>
<line x1="210.69" y1="388.16" x2="217.19" y2="388.16" stroke="#333" stroke-width="1.1"/>
<line x1="224.21" y1="335.12" x2="224.21" y2="361.64" stroke="#6a6a6a" stroke-width="1.0"/>
<line x1="222.21" y1="335.12" x2="226.21" y2="335.12" stroke="#333" stroke-width="1.0"/>
<line x1="224.21" y1="388.16" x2="224.21" y2="427.94" stroke="#6a6a6a" stroke-width="1.0"/>
<line x1="222.21" y1="427.94" x2="226.21" y2="427.94" stroke="#333" stroke-width="1.0"/>
<rect x="220.96" y="361.64" width="6.50" height="26.52" fill="#bb7fcc" stroke="#333" stroke-width="1"/>
<line x1="220.96" y1="374.90" x2="227.46" y2="374.90" stroke="#333" stroke-width="1.1"/>
<line x1="234.49" y1="321.86" x2="234.49" y2="348.38" stroke="#6a6a6a" stroke-width="1.0"/>
<line x1="232.49" y1="321.86" x2="236.49" y2="321.86" stroke="#333" stroke-width="1.0"/>
<line x1="234.49" y1="388.16" x2="234.49" y2="427.94" stroke="#6a6a6a" stroke-width="1.0"/>
<line x1="232.49" y1="427.94" x2="236.49" y2="427.94" stroke="#333" stroke-width="1.0"/>
<rect x="231.24" y="348.38" width="6.50" height="39.78" fill="#bb7fcc" stroke="#333" stroke-width="1"/>
<line x1="231.24" y1="361.64" x2="237.74" y2="361.64" stroke="#333" stroke-width="1.1"/>
<line x1="244.77" y1="321.86" x2="244.77" y2="348.38" stroke="#6a6a6a" stroke-width="1.0"/>
<line x1="242.77" y1="321.86" x2="246.77" y2="321.86" stroke="#333" stroke-width="1.0"/>
<line x1="244.77" y1="374.90" x2="244.77" y2="401.42" stroke="#6a6a6a" stroke-width="1.0"/>
<line x1="242.77" y1="401.42" x2="246.77" y2="401.42" stroke="#333" stroke-width="1.0"/>
<rect x="241.52" y="348.38" width="6.50" height="26.52" fill="#bb7fcc" stroke="#333" stroke-width="1"/>
<line x1="241.52" y1="361.64" x2="248.02" y2="361.64" stroke="#333" stroke-width="1.1"/>
<line x1="255.05" y1="321.86" x2="255.05" y2="348.38" stroke="#6a6a6a" stroke-width="1.0"/>
<line x1="253.05" y1="321.86" x2="257.05" y2="321.86" stroke="#333" stroke-width="1.0"/>
<line x1="255.05" y1="374.90" x2="255.05" y2="414.68" stroke="#6a6a6a" stroke-width="1.0"/>
<line x1="253.05" y1="414.68" x2="257.05" y2="414.68" stroke="#333" stroke-width="1.0"/>
<rect x="251.80" y="348.38" width="6.50" height="26.52" fill="#bb7fcc" stroke="#333" stroke-width="1"/>
<line x1="251.80" y1="361.64" x2="258.30" y2="361.64" stroke="#333" stroke-width="1.1"/>
<line x1="265.33" y1="308.60" x2="265.33" y2="335.12" stroke="#6a6a6a" stroke-width="1.0"/>
<line x1="263.33" y1="308.60" x2="267.33" y2="308.60" stroke="#333" stroke-width="1.0"/>
<rect x="262.08" y="335.12" width="6.50" height="26.52" fill="#bb7fcc" stroke="#333" stroke-width="1"/>
<line x1="262.08" y1="348.38" x2="268.58" y2="348.38" stroke="#333" stroke-width="1.1"/>
<line x1="275.60" y1="321.86" x2="275.60" y2="335.12" stroke="#6a6a6a" stroke-width="1.0"/>
<line x1="273.60" y1="321.86" x2="277.60" y2="321.86" stroke="#333" stroke-width="1.0"/>
<line x1="275.60" y1="361.64" x2="275.60" y2="388.16" stroke="#6a6a6a" stroke-width="1.0"/>
<line x1="273.60" y1="388.16" x2="277.60" y2="388.16" stroke="#333" stroke-width="1.0"/>
<rect x="272.35" y="335.12" width="6.50" height="26.52" fill="#bb7fcc" stroke="#333" stroke-width="1"/>
<line x1="272.35" y1="355.01" x2="278.85" y2="355.01" stroke="#333" stroke-width="1.1"/>
<line x1="84.00" y1="308.60" x2="84.00" y2="441.85" stroke="#1e1e1e" stroke-width="1.6"/>
<line x1="83.35" y1="441.20" x2="282.70" y2="441.20" stroke="#1e1e1e" stroke-width="1.6"/>
<line x1="78.50" y1="441.20" x2="84.00" y2="441.20" stroke="#1e1e1e" stroke-width="1.6"/>
<text x="75.60" y="445.60" font-size="13.2" text-anchor="end" fill="#111" letter-spacing="-0.35">0</text>
<line x1="78.50" y1="414.68" x2="84.00" y2="414.68" stroke="#1e1e1e" stroke-width="1.6"/>
<text x="75.60" y="419.08" font-size="13.2" text-anchor="end" fill="#111" letter-spacing="-0.35">2</text>
<line x1="78.50" y1="388.16" x2="84.00" y2="388.16" stroke="#1e1e1e" stroke-width="1.6"/>
<text x="75.60" y="392.56" font-size="13.2" text-anchor="end" fill="#111" letter-spacing="-0.35">4</text>
<line x1="78.50" y1="361.64" x2="84.00" y2="361.64" stroke="#1e1e1e" stroke-width="1.6"/>
<text x="75.60" y="366.04" font-size="13.2" text-anchor="end" fill="#111" letter-spacing="-0.35">6</text>
<line x1="78.50" y1="335.12" x2="84.00" y2="335.12" stroke="#1e1e1e" stroke-width="1.6"/>
<text x="75.60" y="339.52" font-size="13.2" text-anchor="end" fill="#111" letter-spacing="-0.35">8</text>
<line x1="78.50" y1="308.60" x2="84.00" y2="308.60" stroke="#1e1e1e" stroke-width="1.6"/>
<text x="75.60" y="313.00" font-size="13.2" text-anchor="end" fill="#111" letter-spacing="-0.35">10</text>
<line x1="90.60" y1="441.20" x2="90.60" y2="447.30" stroke="#1e1e1e" stroke-width="1.6"/>
<line x1="100.88" y1="441.20" x2="100.88" y2="447.30" stroke="#1e1e1e" stroke-width="1.6"/>
<line x1="111.16" y1="441.20" x2="111.16" y2="447.30" stroke="#1e1e1e" stroke-width="1.6"/>
<line x1="121.43" y1="441.20" x2="121.43" y2="447.30" stroke="#1e1e1e" stroke-width="1.6"/>
<line x1="131.71" y1="441.20" x2="131.71" y2="447.30" stroke="#1e1e1e" stroke-width="1.6"/>
<line x1="141.99" y1="441.20" x2="141.99" y2="447.30" stroke="#1e1e1e" stroke-width="1.6"/>
<line x1="152.27" y1="441.20" x2="152.27" y2="447.30" stroke="#1e1e1e" stroke-width="1.6"/>
<line x1="162.55" y1="441.20" x2="162.55" y2="447.30" stroke="#1e1e1e" stroke-width="1.6"/>
<line x1="172.82" y1="441.20" x2="172.82" y2="447.30" stroke="#1e1e1e" stroke-width="1.6"/>
<line x1="183.10" y1="441.20" x2="183.10" y2="447.30" stroke="#1e1e1e" stroke-width="1.6"/>
<line x1="193.38" y1="441.20" x2="193.38" y2="447.30" stroke="#1e1e1e" stroke-width="1.6"/>
<line x1="203.66" y1="441.20" x2="203.66" y2="447.30" stroke="#1e1e1e" stroke-width="1.6"/>
<line x1="213.94" y1="441.20" x2="213.94" y2="447.30" stroke="#1e1e1e" stroke-width="1.6"/>
<line x1="224.21" y1="441.20" x2="224.21" y2="447.30" stroke="#1e1e1e" stroke-width="1.6"/>
<line x1="234.49" y1="441.20" x2="234.49" y2="447.30" stroke="#1e1e1e" stroke-width="1.6"/>
<line x1="244.77" y1="441.20" x2="244.77" y2="447.30" stroke="#1e1e1e" stroke-width="1.6"/>
<line x1="255.05" y1="441.20" x2="255.05" y2="447.30" stroke="#1e1e1e" stroke-width="1.6"/>
<line x1="265.33" y1="441.20" x2="265.33" y2="447.30" stroke="#1e1e1e" stroke-width="1.6"/>
<line x1="275.60" y1="441.20" x2="275.60" y2="447.30" stroke="#1e1e1e" stroke-width="1.6"/>
<text x="90.75" y="461.00" font-size="13.2" text-anchor="middle" fill="#111" letter-spacing="-0.3">0</text>
<text x="131.86" y="461.00" font-size="13.2" text-anchor="middle" fill="#111" letter-spacing="-0.3">4</text>
<text x="172.97" y="461.00" font-size="13.2" text-anchor="middle" fill="#111" letter-spacing="-0.3">8</text>
<text x="214.09" y="461.00" font-size="13.2" text-anchor="middle" fill="#111" letter-spacing="-0.3">12</text>
<text x="255.20" y="461.00" font-size="13.2" text-anchor="middle" fill="#111" letter-spacing="-0.3">16</text>
<text x="184.00" y="480.00" font-size="12.4" text-anchor="middle" fill="#111">Time awake (h)</text>
<text x="55.80" y="373.70" font-size="12.4" text-anchor="middle" fill="#111" transform="rotate(-90 55.8 373.7)">Sleepiness (KSS)</text>
<text x="361.40" y="307.70" font-size="19.5" text-anchor="start" font-weight="bold" fill="#ff1a1a" style="stroke:none">D</text>
<line x1="441.60" y1="335.12" x2="441.60" y2="348.38" stroke="#6a6a6a" stroke-width="1.0"/>
<line x1="439.60" y1="335.12" x2="443.60" y2="335.12" stroke="#333" stroke-width="1.0"/>
<line x1="441.60" y1="381.53" x2="441.60" y2="427.94" stroke="#6a6a6a" stroke-width="1.0"/>
<line x1="439.60" y1="427.94" x2="443.60" y2="427.94" stroke="#333" stroke-width="1.0"/>
<rect x="438.60" y="348.38" width="6.00" height="33.15" fill="#bb7fcc" stroke="#333" stroke-width="1"/>
<line x1="438.60" y1="361.64" x2="444.60" y2="361.64" stroke="#333" stroke-width="1.1"/>
<line x1="450.88" y1="321.86" x2="450.88" y2="348.38" stroke="#6a6a6a" stroke-width="1.0"/>
<line x1="448.88" y1="321.86" x2="452.88" y2="321.86" stroke="#333" stroke-width="1.0"/>
<line x1="450.88" y1="388.16" x2="450.88" y2="401.42" stroke="#6a6a6a" stroke-width="1.0"/>
<line x1="448.88" y1="401.42" x2="452.88" y2="401.42" stroke="#333" stroke-width="1.0"/>
<rect x="447.88" y="348.38" width="6.00" height="39.78" fill="#bb7fcc" stroke="#333" stroke-width="1"/>
<line x1="447.88" y1="361.64" x2="453.88" y2="361.64" stroke="#333" stroke-width="1.1"/>
<line x1="460.17" y1="321.86" x2="460.17" y2="362.30" stroke="#6a6a6a" stroke-width="1.0"/>
<line x1="458.17" y1="321.86" x2="462.17" y2="321.86" stroke="#333" stroke-width="1.0"/>
<line x1="460.17" y1="401.42" x2="460.17" y2="427.94" stroke="#6a6a6a" stroke-width="1.0"/>
<line x1="458.17" y1="427.94" x2="462.17" y2="427.94" stroke="#333" stroke-width="1.0"/>
<rect x="457.17" y="362.30" width="6.00" height="39.12" fill="#bb7fcc" stroke="#333" stroke-width="1"/>
<line x1="457.17" y1="374.90" x2="463.17" y2="374.90" stroke="#333" stroke-width="1.1"/>
<line x1="469.45" y1="335.12" x2="469.45" y2="374.90" stroke="#6a6a6a" stroke-width="1.0"/>
<line x1="467.45" y1="335.12" x2="471.45" y2="335.12" stroke="#333" stroke-width="1.0"/>
<line x1="469.45" y1="401.42" x2="469.45" y2="427.94" stroke="#6a6a6a" stroke-width="1.0"/>
<line x1="467.45" y1="427.94" x2="471.45" y2="427.94" stroke="#333" stroke-width="1.0"/>
<rect x="466.45" y="374.90" width="6.00" height="26.52" fill="#bb7fcc" stroke="#333" stroke-width="1"/>
<line x1="466.45" y1="388.16" x2="472.45" y2="388.16" stroke="#333" stroke-width="1.1"/>
<line x1="478.73" y1="335.12" x2="478.73" y2="374.90" stroke="#6a6a6a" stroke-width="1.0"/>
<line x1="476.73" y1="335.12" x2="480.73" y2="335.12" stroke="#333" stroke-width="1.0"/>
<line x1="478.73" y1="401.42" x2="478.73" y2="427.94" stroke="#6a6a6a" stroke-width="1.0"/>
<line x1="476.73" y1="427.94" x2="480.73" y2="427.94" stroke="#333" stroke-width="1.0"/>
<rect x="475.73" y="374.90" width="6.00" height="26.52" fill="#bb7fcc" stroke="#333" stroke-width="1"/>
<line x1="475.73" y1="388.16" x2="481.73" y2="388.16" stroke="#333" stroke-width="1.1"/>
<line x1="488.02" y1="335.12" x2="488.02" y2="385.51" stroke="#6a6a6a" stroke-width="1.0"/>
<line x1="486.02" y1="335.12" x2="490.02" y2="335.12" stroke="#333" stroke-width="1.0"/>
<line x1="488.02" y1="401.42" x2="488.02" y2="427.94" stroke="#6a6a6a" stroke-width="1.0"/>
<line x1="486.02" y1="427.94" x2="490.02" y2="427.94" stroke="#333" stroke-width="1.0"/>
<rect x="485.02" y="385.51" width="6.00" height="15.91" fill="#bb7fcc" stroke="#333" stroke-width="1"/>
<line x1="485.02" y1="388.16" x2="491.02" y2="388.16" stroke="#333" stroke-width="1.1"/>
<line x1="497.30" y1="335.12" x2="497.30" y2="388.16" stroke="#6a6a6a" stroke-width="1.0"/>
<line x1="495.30" y1="335.12" x2="499.30" y2="335.12" stroke="#333" stroke-width="1.0"/>
<line x1="497.30" y1="401.42" x2="497.30" y2="427.94" stroke="#6a6a6a" stroke-width="1.0"/>
<line x1="495.30" y1="427.94" x2="499.30" y2="427.94" stroke="#333" stroke-width="1.0"/>
<rect x="494.30" y="388.16" width="6.00" height="13.26" fill="#bb7fcc" stroke="#333" stroke-width="1"/>
<line x1="494.30" y1="401.42" x2="500.30" y2="401.42" stroke="#333" stroke-width="1.1"/>
<line x1="506.58" y1="335.12" x2="506.58" y2="388.16" stroke="#6a6a6a" stroke-width="1.0"/>
<line x1="504.58" y1="335.12" x2="508.58" y2="335.12" stroke="#333" stroke-width="1.0"/>
<line x1="506.58" y1="401.42" x2="506.58" y2="427.94" stroke="#6a6a6a" stroke-width="1.0"/>
<line x1="504.58" y1="427.94" x2="508.58" y2="427.94" stroke="#333" stroke-width="1.0"/>
<rect x="503.58" y="388.16" width="6.00" height="13.26" fill="#bb7fcc" stroke="#333" stroke-width="1"/>
<line x1="503.58" y1="401.42" x2="509.58" y2="401.42" stroke="#333" stroke-width="1.1"/>
<line x1="515.86" y1="335.12" x2="515.86" y2="374.90" stroke="#6a6a6a" stroke-width="1.0"/>
<line x1="513.86" y1="335.12" x2="517.86" y2="335.12" stroke="#333" stroke-width="1.0"/>
<line x1="515.86" y1="401.42" x2="515.86" y2="427.94" stroke="#6a6a6a" stroke-width="1.0"/>
<line x1="513.86" y1="427.94" x2="517.86" y2="427.94" stroke="#333" stroke-width="1.0"/>
<rect x="512.86" y="374.90" width="6.00" height="26.52" fill="#bb7fcc" stroke="#333" stroke-width="1"/>
<line x1="512.86" y1="388.16" x2="518.86" y2="388.16" stroke="#333" stroke-width="1.1"/>
<line x1="525.15" y1="348.38" x2="525.15" y2="374.90" stroke="#6a6a6a" stroke-width="1.0"/>
<line x1="523.15" y1="348.38" x2="527.15" y2="348.38" stroke="#333" stroke-width="1.0"/>
<line x1="525.15" y1="401.42" x2="525.15" y2="427.94" stroke="#6a6a6a" stroke-width="1.0"/>
<line x1="523.15" y1="427.94" x2="527.15" y2="427.94" stroke="#333" stroke-width="1.0"/>
<rect x="522.15" y="374.90" width="6.00" height="26.52" fill="#bb7fcc" stroke="#333" stroke-width="1"/>
<line x1="522.15" y1="388.16" x2="528.15" y2="388.16" stroke="#333" stroke-width="1.1"/>
<line x1="534.43" y1="321.86" x2="534.43" y2="388.16" stroke="#6a6a6a" stroke-width="1.0"/>
<line x1="532.43" y1="321.86" x2="536.43" y2="321.86" stroke="#333" stroke-width="1.0"/>
<line x1="534.43" y1="401.42" x2="534.43" y2="427.94" stroke="#6a6a6a" stroke-width="1.0"/>
<line x1="532.43" y1="427.94" x2="536.43" y2="427.94" stroke="#333" stroke-width="1.0"/>
<rect x="531.43" y="388.16" width="6.00" height="13.26" fill="#bb7fcc" stroke="#333" stroke-width="1"/>
<line x1="531.43" y1="401.42" x2="537.43" y2="401.42" stroke="#333" stroke-width="1.1"/>
<line x1="543.71" y1="335.12" x2="543.71" y2="374.90" stroke="#6a6a6a" stroke-width="1.0"/>
<line x1="541.71" y1="335.12" x2="545.71" y2="335.12" stroke="#333" stroke-width="1.0"/>
<line x1="543.71" y1="401.42" x2="543.71" y2="427.94" stroke="#6a6a6a" stroke-width="1.0"/>
<line x1="541.71" y1="427.94" x2="545.71" y2="427.94" stroke="#333" stroke-width="1.0"/>
<rect x="540.71" y="374.90" width="6.00" height="26.52" fill="#bb7fcc" stroke="#333" stroke-width="1"/>
<line x1="540.71" y1="401.42" x2="546.71" y2="401.42" stroke="#333" stroke-width="1.1"/>
<line x1="553.00" y1="335.12" x2="553.00" y2="374.90" stroke="#6a6a6a" stroke-width="1.0"/>
<line x1="551.00" y1="335.12" x2="555.00" y2="335.12" stroke="#333" stroke-width="1.0"/>
<line x1="553.00" y1="401.42" x2="553.00" y2="427.94" stroke="#6a6a6a" stroke-width="1.0"/>
<line x1="551.00" y1="427.94" x2="555.00" y2="427.94" stroke="#333" stroke-width="1.0"/>
<rect x="550.00" y="374.90" width="6.00" height="26.52" fill="#bb7fcc" stroke="#333" stroke-width="1"/>
<line x1="550.00" y1="388.16" x2="556.00" y2="388.16" stroke="#333" stroke-width="1.1"/>
<line x1="562.28" y1="321.86" x2="562.28" y2="374.90" stroke="#6a6a6a" stroke-width="1.0"/>
<line x1="560.28" y1="321.86" x2="564.28" y2="321.86" stroke="#333" stroke-width="1.0"/>
<line x1="562.28" y1="401.42" x2="562.28" y2="427.94" stroke="#6a6a6a" stroke-width="1.0"/>
<line x1="560.28" y1="427.94" x2="564.28" y2="427.94" stroke="#333" stroke-width="1.0"/>
<rect x="559.28" y="374.90" width="6.00" height="26.52" fill="#bb7fcc" stroke="#333" stroke-width="1"/>
<line x1="559.28" y1="388.16" x2="565.28" y2="388.16" stroke="#333" stroke-width="1.1"/>
<line x1="571.56" y1="321.86" x2="571.56" y2="361.64" stroke="#6a6a6a" stroke-width="1.0"/>
<line x1="569.56" y1="321.86" x2="573.56" y2="321.86" stroke="#333" stroke-width="1.0"/>
<line x1="571.56" y1="401.42" x2="571.56" y2="414.68" stroke="#6a6a6a" stroke-width="1.0"/>
<line x1="569.56" y1="414.68" x2="573.56" y2="414.68" stroke="#333" stroke-width="1.0"/>
<rect x="568.56" y="361.64" width="6.00" height="39.78" fill="#bb7fcc" stroke="#333" stroke-width="1"/>
<line x1="568.56" y1="388.16" x2="574.56" y2="388.16" stroke="#333" stroke-width="1.1"/>
<line x1="580.85" y1="308.60" x2="580.85" y2="361.64" stroke="#6a6a6a" stroke-width="1.0"/>
<line x1="578.85" y1="308.60" x2="582.85" y2="308.60" stroke="#333" stroke-width="1.0"/>
<line x1="580.85" y1="388.16" x2="580.85" y2="427.94" stroke="#6a6a6a" stroke-width="1.0"/>
<line x1="578.85" y1="427.94" x2="582.85" y2="427.94" stroke="#333" stroke-width="1.0"/>
<rect x="577.85" y="361.64" width="6.00" height="26.52" fill="#bb7fcc" stroke="#333" stroke-width="1"/>
<line x1="577.85" y1="374.90" x2="583.85" y2="374.90" stroke="#333" stroke-width="1.1"/>
<line x1="590.13" y1="321.86" x2="590.13" y2="348.38" stroke="#6a6a6a" stroke-width="1.0"/>
<line x1="588.13" y1="321.86" x2="592.13" y2="321.86" stroke="#333" stroke-width="1.0"/>
<line x1="590.13" y1="388.16" x2="590.13" y2="414.68" stroke="#6a6a6a" stroke-width="1.0"/>
<line x1="588.13" y1="414.68" x2="592.13" y2="414.68" stroke="#333" stroke-width="1.0"/>
<rect x="587.13" y="348.38" width="6.00" height="39.78" fill="#bb7fcc" stroke="#333" stroke-width="1"/>
<line x1="587.13" y1="361.64" x2="593.13" y2="361.64" stroke="#333" stroke-width="1.1"/>
<line x1="599.41" y1="321.86" x2="599.41" y2="348.38" stroke="#6a6a6a" stroke-width="1.0"/>
<line x1="597.41" y1="321.86" x2="601.41" y2="321.86" stroke="#333" stroke-width="1.0"/>
<line x1="599.41" y1="388.16" x2="599.41" y2="414.68" stroke="#6a6a6a" stroke-width="1.0"/>
<line x1="597.41" y1="414.68" x2="601.41" y2="414.68" stroke="#333" stroke-width="1.0"/>
<rect x="596.41" y="348.38" width="6.00" height="39.78" fill="#bb7fcc" stroke="#333" stroke-width="1"/>
<line x1="596.41" y1="361.64" x2="602.41" y2="361.64" stroke="#333" stroke-width="1.1"/>
<line x1="608.69" y1="321.86" x2="608.69" y2="348.38" stroke="#6a6a6a" stroke-width="1.0"/>
<line x1="606.69" y1="321.86" x2="610.69" y2="321.86" stroke="#333" stroke-width="1.0"/>
<line x1="608.69" y1="374.90" x2="608.69" y2="414.68" stroke="#6a6a6a" stroke-width="1.0"/>
<line x1="606.69" y1="414.68" x2="610.69" y2="414.68" stroke="#333" stroke-width="1.0"/>
<rect x="605.69" y="348.38" width="6.00" height="26.52" fill="#bb7fcc" stroke="#333" stroke-width="1"/>
<line x1="605.69" y1="361.64" x2="611.69" y2="361.64" stroke="#333" stroke-width="1.1"/>
<line x1="617.98" y1="335.12" x2="617.98" y2="348.38" stroke="#6a6a6a" stroke-width="1.0"/>
<line x1="615.98" y1="335.12" x2="619.98" y2="335.12" stroke="#333" stroke-width="1.0"/>
<line x1="617.98" y1="388.16" x2="617.98" y2="401.42" stroke="#6a6a6a" stroke-width="1.0"/>
<line x1="615.98" y1="401.42" x2="619.98" y2="401.42" stroke="#333" stroke-width="1.0"/>
<rect x="614.98" y="348.38" width="6.00" height="39.78" fill="#bb7fcc" stroke="#333" stroke-width="1"/>
<line x1="614.98" y1="361.64" x2="620.98" y2="361.64" stroke="#333" stroke-width="1.1"/>
<line x1="627.26" y1="308.60" x2="627.26" y2="328.49" stroke="#6a6a6a" stroke-width="1.0"/>
<line x1="625.26" y1="308.60" x2="629.26" y2="308.60" stroke="#333" stroke-width="1.0"/>
<rect x="624.26" y="328.49" width="6.00" height="33.15" fill="#bb7fcc" stroke="#333" stroke-width="1"/>
<line x1="624.26" y1="335.12" x2="630.26" y2="335.12" stroke="#333" stroke-width="1.1"/>
<line x1="435.50" y1="308.60" x2="435.50" y2="441.85" stroke="#1e1e1e" stroke-width="1.6"/>
<line x1="434.85" y1="441.20" x2="634.00" y2="441.20" stroke="#1e1e1e" stroke-width="1.6"/>
<line x1="430.00" y1="441.20" x2="435.50" y2="441.20" stroke="#1e1e1e" stroke-width="1.6"/>
<text x="427.10" y="445.60" font-size="13.2" text-anchor="end" fill="#111" letter-spacing="-0.35">0</text>
<line x1="430.00" y1="414.68" x2="435.50" y2="414.68" stroke="#1e1e1e" stroke-width="1.6"/>
<text x="427.10" y="419.08" font-size="13.2" text-anchor="end" fill="#111" letter-spacing="-0.35">2</text>
<line x1="430.00" y1="388.16" x2="435.50" y2="388.16" stroke="#1e1e1e" stroke-width="1.6"/>
<text x="427.10" y="392.56" font-size="13.2" text-anchor="end" fill="#111" letter-spacing="-0.35">4</text>
<line x1="430.00" y1="361.64" x2="435.50" y2="361.64" stroke="#1e1e1e" stroke-width="1.6"/>
<text x="427.10" y="366.04" font-size="13.2" text-anchor="end" fill="#111" letter-spacing="-0.35">6</text>
<line x1="430.00" y1="335.12" x2="435.50" y2="335.12" stroke="#1e1e1e" stroke-width="1.6"/>
<text x="427.10" y="339.52" font-size="13.2" text-anchor="end" fill="#111" letter-spacing="-0.35">8</text>
<line x1="430.00" y1="308.60" x2="435.50" y2="308.60" stroke="#1e1e1e" stroke-width="1.6"/>
<text x="427.10" y="313.00" font-size="13.2" text-anchor="end" fill="#111" letter-spacing="-0.35">10</text>
<line x1="441.60" y1="441.20" x2="441.60" y2="447.30" stroke="#1e1e1e" stroke-width="1.6"/>
<line x1="450.88" y1="441.20" x2="450.88" y2="447.30" stroke="#1e1e1e" stroke-width="1.6"/>
<line x1="460.17" y1="441.20" x2="460.17" y2="447.30" stroke="#1e1e1e" stroke-width="1.6"/>
<line x1="469.45" y1="441.20" x2="469.45" y2="447.30" stroke="#1e1e1e" stroke-width="1.6"/>
<line x1="478.73" y1="441.20" x2="478.73" y2="447.30" stroke="#1e1e1e" stroke-width="1.6"/>
<line x1="488.02" y1="441.20" x2="488.02" y2="447.30" stroke="#1e1e1e" stroke-width="1.6"/>
<line x1="497.30" y1="441.20" x2="497.30" y2="447.30" stroke="#1e1e1e" stroke-width="1.6"/>
<line x1="506.58" y1="441.20" x2="506.58" y2="447.30" stroke="#1e1e1e" stroke-width="1.6"/>
<line x1="515.86" y1="441.20" x2="515.86" y2="447.30" stroke="#1e1e1e" stroke-width="1.6"/>
<line x1="525.15" y1="441.20" x2="525.15" y2="447.30" stroke="#1e1e1e" stroke-width="1.6"/>
<line x1="534.43" y1="441.20" x2="534.43" y2="447.30" stroke="#1e1e1e" stroke-width="1.6"/>
<line x1="543.71" y1="441.20" x2="543.71" y2="447.30" stroke="#1e1e1e" stroke-width="1.6"/>
<line x1="553.00" y1="441.20" x2="553.00" y2="447.30" stroke="#1e1e1e" stroke-width="1.6"/>
<line x1="562.28" y1="441.20" x2="562.28" y2="447.30" stroke="#1e1e1e" stroke-width="1.6"/>
<line x1="571.56" y1="441.20" x2="571.56" y2="447.30" stroke="#1e1e1e" stroke-width="1.6"/>
<line x1="580.85" y1="441.20" x2="580.85" y2="447.30" stroke="#1e1e1e" stroke-width="1.6"/>
<line x1="590.13" y1="441.20" x2="590.13" y2="447.30" stroke="#1e1e1e" stroke-width="1.6"/>
<line x1="599.41" y1="441.20" x2="599.41" y2="447.30" stroke="#1e1e1e" stroke-width="1.6"/>
<line x1="608.69" y1="441.20" x2="608.69" y2="447.30" stroke="#1e1e1e" stroke-width="1.6"/>
<line x1="617.98" y1="441.20" x2="617.98" y2="447.30" stroke="#1e1e1e" stroke-width="1.6"/>
<line x1="627.26" y1="441.20" x2="627.26" y2="447.30" stroke="#1e1e1e" stroke-width="1.6"/>
<text x="441.75" y="461.00" font-size="13.2" text-anchor="middle" fill="#111" letter-spacing="-0.3">6</text>
<text x="469.60" y="461.00" font-size="13.2" text-anchor="middle" fill="#111" letter-spacing="-0.3">9</text>
<text x="497.45" y="461.00" font-size="13.2" text-anchor="middle" fill="#111" letter-spacing="-0.3">12</text>
<text x="525.30" y="461.00" font-size="13.2" text-anchor="middle" fill="#111" letter-spacing="-0.3">15</text>
<text x="553.15" y="461.00" font-size="13.2" text-anchor="middle" fill="#111" letter-spacing="-0.3">18</text>
<text x="581.00" y="461.00" font-size="13.2" text-anchor="middle" fill="#111" letter-spacing="-0.3">21</text>
<text x="608.84" y="461.00" font-size="13.2" text-anchor="middle" fill="#111" letter-spacing="-0.3">0</text>
<text x="535.00" y="480.20" font-size="12.4" text-anchor="middle" fill="#111">Time of day</text>
<text x="407.20" y="373.70" font-size="12.4" text-anchor="middle" fill="#111" transform="rotate(-90 407.2 373.7)">Sleepiness (KSS)</text>
<text x="0.80" y="481.80" font-size="19.5" text-anchor="start" font-weight="bold" fill="#ff1a1a" style="stroke:none">E</text>
<line x1="90.10" y1="578.25" x2="90.10" y2="584.39" stroke="#6a6a6a" stroke-width="1.0"/>
<line x1="88.10" y1="578.25" x2="92.10" y2="578.25" stroke="#333" stroke-width="1.0"/>
<line x1="90.10" y1="589.33" x2="90.10" y2="603.35" stroke="#6a6a6a" stroke-width="1.0"/>
<line x1="88.10" y1="603.35" x2="92.10" y2="603.35" stroke="#333" stroke-width="1.0"/>
<rect x="87.20" y="584.39" width="5.80" height="4.94" fill="#f47f7a" stroke="#333" stroke-width="1"/>
<line x1="87.20" y1="586.26" x2="93.00" y2="586.26" stroke="#333" stroke-width="1.1"/>
<line x1="99.38" y1="556.49" x2="99.38" y2="580.79" stroke="#6a6a6a" stroke-width="1.0"/>
<line x1="97.38" y1="556.49" x2="101.38" y2="556.49" stroke="#333" stroke-width="1.0"/>
<line x1="99.38" y1="591.20" x2="99.38" y2="604.28" stroke="#6a6a6a" stroke-width="1.0"/>
<line x1="97.38" y1="604.28" x2="101.38" y2="604.28" stroke="#333" stroke-width="1.0"/>
<rect x="96.48" y="580.79" width="5.80" height="10.41" fill="#f47f7a" stroke="#333" stroke-width="1"/>
<line x1="96.48" y1="586.80" x2="102.28" y2="586.80" stroke="#333" stroke-width="1.1"/>
<line x1="108.66" y1="555.96" x2="108.66" y2="581.19" stroke="#6a6a6a" stroke-width="1.0"/>
<line x1="106.66" y1="555.96" x2="110.66" y2="555.96" stroke="#333" stroke-width="1.0"/>
<line x1="108.66" y1="594.00" x2="108.66" y2="606.29" stroke="#6a6a6a" stroke-width="1.0"/>
<line x1="106.66" y1="606.29" x2="110.66" y2="606.29" stroke="#333" stroke-width="1.0"/>
<rect x="105.76" y="581.19" width="5.80" height="12.82" fill="#f47f7a" stroke="#333" stroke-width="1"/>
<line x1="105.76" y1="588.66" x2="111.56" y2="588.66" stroke="#333" stroke-width="1.1"/>
<line x1="117.94" y1="563.70" x2="117.94" y2="582.52" stroke="#6a6a6a" stroke-width="1.0"/>
<line x1="115.94" y1="563.70" x2="119.94" y2="563.70" stroke="#333" stroke-width="1.0"/>
<line x1="117.94" y1="597.21" x2="117.94" y2="605.75" stroke="#6a6a6a" stroke-width="1.0"/>
<line x1="115.94" y1="605.75" x2="119.94" y2="605.75" stroke="#333" stroke-width="1.0"/>
<rect x="115.04" y="582.52" width="5.80" height="14.69" fill="#f47f7a" stroke="#333" stroke-width="1"/>
<line x1="115.04" y1="591.87" x2="120.84" y2="591.87" stroke="#333" stroke-width="1.1"/>
<line x1="127.22" y1="568.24" x2="127.22" y2="583.46" stroke="#6a6a6a" stroke-width="1.0"/>
<line x1="125.22" y1="568.24" x2="129.22" y2="568.24" stroke="#333" stroke-width="1.0"/>
<line x1="127.22" y1="595.34" x2="127.22" y2="608.16" stroke="#6a6a6a" stroke-width="1.0"/>
<line x1="125.22" y1="608.16" x2="129.22" y2="608.16" stroke="#333" stroke-width="1.0"/>
<rect x="124.32" y="583.46" width="5.80" height="11.88" fill="#f47f7a" stroke="#333" stroke-width="1"/>
<line x1="124.32" y1="589.06" x2="130.12" y2="589.06" stroke="#333" stroke-width="1.1"/>
<line x1="136.50" y1="554.09" x2="136.50" y2="583.59" stroke="#6a6a6a" stroke-width="1.0"/>
<line x1="134.50" y1="554.09" x2="138.50" y2="554.09" stroke="#333" stroke-width="1.0"/>
<line x1="136.50" y1="595.87" x2="136.50" y2="606.69" stroke="#6a6a6a" stroke-width="1.0"/>
<line x1="134.50" y1="606.69" x2="138.50" y2="606.69" stroke="#333" stroke-width="1.0"/>
<rect x="133.60" y="583.59" width="5.80" height="12.28" fill="#f47f7a" stroke="#333" stroke-width="1"/>
<line x1="133.60" y1="590.93" x2="139.40" y2="590.93" stroke="#333" stroke-width="1.1"/>
<line x1="145.78" y1="539.14" x2="145.78" y2="581.59" stroke="#6a6a6a" stroke-width="1.0"/>
<line x1="143.78" y1="539.14" x2="147.78" y2="539.14" stroke="#333" stroke-width="1.0"/>
<line x1="145.78" y1="592.54" x2="145.78" y2="607.22" stroke="#6a6a6a" stroke-width="1.0"/>
<line x1="143.78" y1="607.22" x2="147.78" y2="607.22" stroke="#333" stroke-width="1.0"/>
<rect x="142.88" y="581.59" width="5.80" height="10.95" fill="#f47f7a" stroke="#333" stroke-width="1"/>
<line x1="142.88" y1="586.80" x2="148.68" y2="586.80" stroke="#333" stroke-width="1.1"/>
<line x1="155.06" y1="549.95" x2="155.06" y2="580.79" stroke="#6a6a6a" stroke-width="1.0"/>
<line x1="153.06" y1="549.95" x2="157.06" y2="549.95" stroke="#333" stroke-width="1.0"/>
<line x1="155.06" y1="595.34" x2="155.06" y2="606.29" stroke="#6a6a6a" stroke-width="1.0"/>
<line x1="153.06" y1="606.29" x2="157.06" y2="606.29" stroke="#333" stroke-width="1.0"/>
<rect x="152.16" y="580.79" width="5.80" height="14.55" fill="#f47f7a" stroke="#333" stroke-width="1"/>
<line x1="152.16" y1="589.06" x2="157.96" y2="589.06" stroke="#333" stroke-width="1.1"/>
<line x1="164.34" y1="548.35" x2="164.34" y2="582.52" stroke="#6a6a6a" stroke-width="1.0"/>
<line x1="162.34" y1="548.35" x2="166.34" y2="548.35" stroke="#333" stroke-width="1.0"/>
<line x1="164.34" y1="593.47" x2="164.34" y2="605.22" stroke="#6a6a6a" stroke-width="1.0"/>
<line x1="162.34" y1="605.22" x2="166.34" y2="605.22" stroke="#333" stroke-width="1.0"/>
<rect x="161.44" y="582.52" width="5.80" height="10.95" fill="#f47f7a" stroke="#333" stroke-width="1"/>
<line x1="161.44" y1="588.66" x2="167.24" y2="588.66" stroke="#333" stroke-width="1.1"/>
<line x1="173.62" y1="547.41" x2="173.62" y2="583.99" stroke="#6a6a6a" stroke-width="1.0"/>
<line x1="171.62" y1="547.41" x2="175.62" y2="547.41" stroke="#333" stroke-width="1.0"/>
<line x1="173.62" y1="596.67" x2="173.62" y2="605.22" stroke="#6a6a6a" stroke-width="1.0"/>
<line x1="171.62" y1="605.22" x2="175.62" y2="605.22" stroke="#333" stroke-width="1.0"/>
<rect x="170.72" y="583.99" width="5.80" height="12.68" fill="#f47f7a" stroke="#333" stroke-width="1"/>
<line x1="170.72" y1="589.06" x2="176.52" y2="589.06" stroke="#333" stroke-width="1.1"/>
<line x1="182.90" y1="556.49" x2="182.90" y2="584.53" stroke="#6a6a6a" stroke-width="1.0"/>
<line x1="180.90" y1="556.49" x2="184.90" y2="556.49" stroke="#333" stroke-width="1.0"/>
<line x1="182.90" y1="596.27" x2="182.90" y2="603.22" stroke="#6a6a6a" stroke-width="1.0"/>
<line x1="180.90" y1="603.22" x2="184.90" y2="603.22" stroke="#333" stroke-width="1.0"/>
<rect x="180.00" y="584.53" width="5.80" height="11.75" fill="#f47f7a" stroke="#333" stroke-width="1"/>
<line x1="180.00" y1="590.27" x2="185.80" y2="590.27" stroke="#333" stroke-width="1.1"/>
<line x1="192.18" y1="556.22" x2="192.18" y2="581.19" stroke="#6a6a6a" stroke-width="1.0"/>
<line x1="190.18" y1="556.22" x2="194.18" y2="556.22" stroke="#333" stroke-width="1.0"/>
<line x1="192.18" y1="596.27" x2="192.18" y2="605.75" stroke="#6a6a6a" stroke-width="1.0"/>
<line x1="190.18" y1="605.75" x2="194.18" y2="605.75" stroke="#333" stroke-width="1.0"/>
<rect x="189.28" y="581.19" width="5.80" height="15.09" fill="#f47f7a" stroke="#333" stroke-width="1"/>
<line x1="189.28" y1="589.33" x2="195.08" y2="589.33" stroke="#333" stroke-width="1.1"/>
<line x1="201.46" y1="548.75" x2="201.46" y2="582.52" stroke="#6a6a6a" stroke-width="1.0"/>
<line x1="199.46" y1="548.75" x2="203.46" y2="548.75" stroke="#333" stroke-width="1.0"/>
<line x1="201.46" y1="594.40" x2="201.46" y2="605.75" stroke="#6a6a6a" stroke-width="1.0"/>
<line x1="199.46" y1="605.75" x2="203.46" y2="605.75" stroke="#333" stroke-width="1.0"/>
<rect x="198.56" y="582.52" width="5.80" height="11.88" fill="#f47f7a" stroke="#333" stroke-width="1"/>
<line x1="198.56" y1="589.06" x2="204.36" y2="589.06" stroke="#333" stroke-width="1.1"/>
<line x1="210.74" y1="557.43" x2="210.74" y2="580.52" stroke="#6a6a6a" stroke-width="1.0"/>
<line x1="208.74" y1="557.43" x2="212.74" y2="557.43" stroke="#333" stroke-width="1.0"/>
<line x1="210.74" y1="593.07" x2="210.74" y2="604.42" stroke="#6a6a6a" stroke-width="1.0"/>
<line x1="208.74" y1="604.42" x2="212.74" y2="604.42" stroke="#333" stroke-width="1.0"/>
<rect x="207.84" y="580.52" width="5.80" height="12.55" fill="#f47f7a" stroke="#333" stroke-width="1"/>
<line x1="207.84" y1="586.80" x2="213.64" y2="586.80" stroke="#333" stroke-width="1.1"/>
<line x1="220.02" y1="556.49" x2="220.02" y2="582.52" stroke="#6a6a6a" stroke-width="1.0"/>
<line x1="218.02" y1="556.49" x2="222.02" y2="556.49" stroke="#333" stroke-width="1.0"/>
<line x1="220.02" y1="593.47" x2="220.02" y2="602.01" stroke="#6a6a6a" stroke-width="1.0"/>
<line x1="218.02" y1="602.01" x2="222.02" y2="602.01" stroke="#333" stroke-width="1.0"/>
<rect x="217.12" y="582.52" width="5.80" height="10.95" fill="#f47f7a" stroke="#333" stroke-width="1"/>
<line x1="217.12" y1="589.33" x2="222.92" y2="589.33" stroke="#333" stroke-width="1.1"/>
<line x1="229.30" y1="552.35" x2="229.30" y2="583.06" stroke="#6a6a6a" stroke-width="1.0"/>
<line x1="227.30" y1="552.35" x2="231.30" y2="552.35" stroke="#333" stroke-width="1.0"/>
<line x1="229.30" y1="593.47" x2="229.30" y2="606.29" stroke="#6a6a6a" stroke-width="1.0"/>
<line x1="227.30" y1="606.29" x2="231.30" y2="606.29" stroke="#333" stroke-width="1.0"/>
<rect x="226.40" y="583.06" width="5.80" height="10.41" fill="#f47f7a" stroke="#333" stroke-width="1"/>
<line x1="226.40" y1="586.26" x2="232.20" y2="586.26" stroke="#333" stroke-width="1.1"/>
<line x1="238.58" y1="554.62" x2="238.58" y2="580.52" stroke="#6a6a6a" stroke-width="1.0"/>
<line x1="236.58" y1="554.62" x2="240.58" y2="554.62" stroke="#333" stroke-width="1.0"/>
<line x1="238.58" y1="593.47" x2="238.58" y2="602.95" stroke="#6a6a6a" stroke-width="1.0"/>
<line x1="236.58" y1="602.95" x2="240.58" y2="602.95" stroke="#333" stroke-width="1.0"/>
<rect x="235.68" y="580.52" width="5.80" height="12.95" fill="#f47f7a" stroke="#333" stroke-width="1"/>
<line x1="235.68" y1="586.80" x2="241.48" y2="586.80" stroke="#333" stroke-width="1.1"/>
<line x1="247.86" y1="559.96" x2="247.86" y2="579.59" stroke="#6a6a6a" stroke-width="1.0"/>
<line x1="245.86" y1="559.96" x2="249.86" y2="559.96" stroke="#333" stroke-width="1.0"/>
<line x1="247.86" y1="593.47" x2="247.86" y2="605.75" stroke="#6a6a6a" stroke-width="1.0"/>
<line x1="245.86" y1="605.75" x2="249.86" y2="605.75" stroke="#333" stroke-width="1.0"/>
<rect x="244.96" y="579.59" width="5.80" height="13.88" fill="#f47f7a" stroke="#333" stroke-width="1"/>
<line x1="244.96" y1="586.26" x2="250.76" y2="586.26" stroke="#333" stroke-width="1.1"/>
<line x1="257.14" y1="559.43" x2="257.14" y2="583.59" stroke="#6a6a6a" stroke-width="1.0"/>
<line x1="255.14" y1="559.43" x2="259.14" y2="559.43" stroke="#333" stroke-width="1.0"/>
<line x1="257.14" y1="591.20" x2="257.14" y2="603.22" stroke="#6a6a6a" stroke-width="1.0"/>
<line x1="255.14" y1="603.22" x2="259.14" y2="603.22" stroke="#333" stroke-width="1.0"/>
<rect x="254.24" y="583.59" width="5.80" height="7.61" fill="#f47f7a" stroke="#333" stroke-width="1"/>
<line x1="254.24" y1="586.26" x2="260.04" y2="586.26" stroke="#333" stroke-width="1.1"/>
<line x1="266.42" y1="560.90" x2="266.42" y2="577.32" stroke="#6a6a6a" stroke-width="1.0"/>
<line x1="264.42" y1="560.90" x2="268.42" y2="560.90" stroke="#333" stroke-width="1.0"/>
<line x1="266.42" y1="590.93" x2="266.42" y2="605.22" stroke="#6a6a6a" stroke-width="1.0"/>
<line x1="264.42" y1="605.22" x2="268.42" y2="605.22" stroke="#333" stroke-width="1.0"/>
<rect x="263.52" y="577.32" width="5.80" height="13.62" fill="#f47f7a" stroke="#333" stroke-width="1"/>
<line x1="263.52" y1="585.46" x2="269.32" y2="585.46" stroke="#333" stroke-width="1.1"/>
<line x1="275.70" y1="571.18" x2="275.70" y2="573.58" stroke="#6a6a6a" stroke-width="1.0"/>
<line x1="273.70" y1="571.18" x2="277.70" y2="571.18" stroke="#333" stroke-width="1.0"/>
<line x1="275.70" y1="587.33" x2="275.70" y2="596.27" stroke="#6a6a6a" stroke-width="1.0"/>
<line x1="273.70" y1="596.27" x2="277.70" y2="596.27" stroke="#333" stroke-width="1.0"/>
<rect x="272.80" y="573.58" width="5.80" height="13.75" fill="#f47f7a" stroke="#333" stroke-width="1"/>
<line x1="272.80" y1="581.19" x2="278.60" y2="581.19" stroke="#333" stroke-width="1.1"/>
<line x1="84.00" y1="510.80" x2="84.00" y2="643.45" stroke="#1e1e1e" stroke-width="1.6"/>
<line x1="83.35" y1="642.80" x2="282.60" y2="642.80" stroke="#1e1e1e" stroke-width="1.6"/>
<line x1="78.50" y1="642.80" x2="84.00" y2="642.80" stroke="#1e1e1e" stroke-width="1.6"/>
<text x="75.60" y="647.20" font-size="13.2" text-anchor="end" fill="#111" letter-spacing="-0.35">0</text>
<line x1="78.50" y1="616.40" x2="84.00" y2="616.40" stroke="#1e1e1e" stroke-width="1.6"/>
<text x="75.60" y="620.80" font-size="13.2" text-anchor="end" fill="#111" letter-spacing="-0.35">200</text>
<line x1="78.50" y1="590.00" x2="84.00" y2="590.00" stroke="#1e1e1e" stroke-width="1.6"/>
<text x="75.60" y="594.40" font-size="13.2" text-anchor="end" fill="#111" letter-spacing="-0.35">400</text>
<line x1="78.50" y1="563.60" x2="84.00" y2="563.60" stroke="#1e1e1e" stroke-width="1.6"/>
<text x="75.60" y="568.00" font-size="13.2" text-anchor="end" fill="#111" letter-spacing="-0.35">600</text>
<line x1="78.50" y1="537.20" x2="84.00" y2="537.20" stroke="#1e1e1e" stroke-width="1.6"/>
<text x="75.60" y="541.60" font-size="13.2" text-anchor="end" fill="#111" letter-spacing="-0.35">800</text>
<line x1="78.50" y1="510.80" x2="84.00" y2="510.80" stroke="#1e1e1e" stroke-width="1.6"/>
<text x="75.60" y="515.20" font-size="13.2" text-anchor="end" fill="#111" letter-spacing="-0.35">1000</text>
<line x1="90.10" y1="642.80" x2="90.10" y2="648.90" stroke="#1e1e1e" stroke-width="1.6"/>
<line x1="99.38" y1="642.80" x2="99.38" y2="648.90" stroke="#1e1e1e" stroke-width="1.6"/>
<line x1="108.66" y1="642.80" x2="108.66" y2="648.90" stroke="#1e1e1e" stroke-width="1.6"/>
<line x1="117.94" y1="642.80" x2="117.94" y2="648.90" stroke="#1e1e1e" stroke-width="1.6"/>
<line x1="127.22" y1="642.80" x2="127.22" y2="648.90" stroke="#1e1e1e" stroke-width="1.6"/>
<line x1="136.50" y1="642.80" x2="136.50" y2="648.90" stroke="#1e1e1e" stroke-width="1.6"/>
<line x1="145.78" y1="642.80" x2="145.78" y2="648.90" stroke="#1e1e1e" stroke-width="1.6"/>
<line x1="155.06" y1="642.80" x2="155.06" y2="648.90" stroke="#1e1e1e" stroke-width="1.6"/>
<line x1="164.34" y1="642.80" x2="164.34" y2="648.90" stroke="#1e1e1e" stroke-width="1.6"/>
<line x1="173.62" y1="642.80" x2="173.62" y2="648.90" stroke="#1e1e1e" stroke-width="1.6"/>
<line x1="182.90" y1="642.80" x2="182.90" y2="648.90" stroke="#1e1e1e" stroke-width="1.6"/>
<line x1="192.18" y1="642.80" x2="192.18" y2="648.90" stroke="#1e1e1e" stroke-width="1.6"/>
<line x1="201.46" y1="642.80" x2="201.46" y2="648.90" stroke="#1e1e1e" stroke-width="1.6"/>
<line x1="210.74" y1="642.80" x2="210.74" y2="648.90" stroke="#1e1e1e" stroke-width="1.6"/>
<line x1="220.02" y1="642.80" x2="220.02" y2="648.90" stroke="#1e1e1e" stroke-width="1.6"/>
<line x1="229.30" y1="642.80" x2="229.30" y2="648.90" stroke="#1e1e1e" stroke-width="1.6"/>
<line x1="238.58" y1="642.80" x2="238.58" y2="648.90" stroke="#1e1e1e" stroke-width="1.6"/>
<line x1="247.86" y1="642.80" x2="247.86" y2="648.90" stroke="#1e1e1e" stroke-width="1.6"/>
<line x1="257.14" y1="642.80" x2="257.14" y2="648.90" stroke="#1e1e1e" stroke-width="1.6"/>
<line x1="266.42" y1="642.80" x2="266.42" y2="648.90" stroke="#1e1e1e" stroke-width="1.6"/>
<line x1="275.70" y1="642.80" x2="275.70" y2="648.90" stroke="#1e1e1e" stroke-width="1.6"/>
<text x="90.25" y="662.70" font-size="13.2" text-anchor="middle" fill="#111" letter-spacing="-0.3">6</text>
<text x="118.09" y="662.70" font-size="13.2" text-anchor="middle" fill="#111" letter-spacing="-0.3">9</text>
<text x="145.93" y="662.70" font-size="13.2" text-anchor="middle" fill="#111" letter-spacing="-0.3">12</text>
<text x="173.77" y="662.70" font-size="13.2" text-anchor="middle" fill="#111" letter-spacing="-0.3">15</text>
<text x="201.61" y="662.70" font-size="13.2" text-anchor="middle" fill="#111" letter-spacing="-0.3">18</text>
<text x="229.45" y="662.70" font-size="13.2" text-anchor="middle" fill="#111" letter-spacing="-0.3">21</text>
<text x="257.29" y="662.70" font-size="13.2" text-anchor="middle" fill="#111" letter-spacing="-0.3">0</text>
<text x="183.60" y="682.00" font-size="12.4" text-anchor="middle" fill="#111">Time of day</text>
<text x="40.60" y="575.60" font-size="12.4" text-anchor="middle" fill="#111" transform="rotate(-90 40.6 575.6)">PVT median reaction time (ms)</text>
<text x="361.40" y="481.60" font-size="19.5" text-anchor="start" font-weight="bold" fill="#ff1a1a" style="stroke:none">F</text>
<line x1="451.50" y1="561.38" x2="451.50" y2="576.42" stroke="#6a6a6a" stroke-width="1.0"/>
<line x1="447.00" y1="561.38" x2="456.00" y2="561.38" stroke="#333" stroke-width="1.0"/>
<line x1="451.50" y1="589.46" x2="451.50" y2="596.52" stroke="#6a6a6a" stroke-width="1.0"/>
<line x1="447.00" y1="596.52" x2="456.00" y2="596.52" stroke="#333" stroke-width="1.0"/>
<rect x="443.70" y="576.42" width="15.60" height="13.04" fill="#f47f7a" stroke="#333" stroke-width="1"/>
<line x1="443.70" y1="582.27" x2="459.30" y2="582.27" stroke="#333" stroke-width="1.1"/>
<line x1="475.36" y1="556.59" x2="475.36" y2="581.34" stroke="#6a6a6a" stroke-width="1.0"/>
<line x1="470.86" y1="556.59" x2="479.86" y2="556.59" stroke="#333" stroke-width="1.0"/>
<line x1="475.36" y1="594.52" x2="475.36" y2="599.18" stroke="#6a6a6a" stroke-width="1.0"/>
<line x1="470.86" y1="599.18" x2="479.86" y2="599.18" stroke="#333" stroke-width="1.0"/>
<rect x="467.56" y="581.34" width="15.60" height="13.18" fill="#f47f7a" stroke="#333" stroke-width="1"/>
<line x1="467.56" y1="589.20" x2="483.16" y2="589.20" stroke="#333" stroke-width="1.1"/>
<line x1="499.22" y1="540.35" x2="499.22" y2="572.03" stroke="#6a6a6a" stroke-width="1.0"/>
<line x1="494.72" y1="540.35" x2="503.72" y2="540.35" stroke="#333" stroke-width="1.0"/>
<line x1="499.22" y1="594.52" x2="499.22" y2="605.57" stroke="#6a6a6a" stroke-width="1.0"/>
<line x1="494.72" y1="605.57" x2="503.72" y2="605.57" stroke="#333" stroke-width="1.0"/>
<rect x="491.42" y="572.03" width="15.60" height="22.49" fill="#f47f7a" stroke="#333" stroke-width="1"/>
<line x1="491.42" y1="587.60" x2="507.02" y2="587.60" stroke="#333" stroke-width="1.1"/>
<line x1="523.08" y1="549.00" x2="523.08" y2="581.34" stroke="#6a6a6a" stroke-width="1.0"/>
<line x1="518.58" y1="549.00" x2="527.58" y2="549.00" stroke="#333" stroke-width="1.0"/>
<line x1="523.08" y1="594.52" x2="523.08" y2="605.03" stroke="#6a6a6a" stroke-width="1.0"/>
<line x1="518.58" y1="605.03" x2="527.58" y2="605.03" stroke="#333" stroke-width="1.0"/>
<rect x="515.28" y="581.34" width="15.60" height="13.18" fill="#f47f7a" stroke="#333" stroke-width="1"/>
<line x1="515.28" y1="587.60" x2="530.88" y2="587.60" stroke="#333" stroke-width="1.1"/>
<line x1="546.94" y1="549.00" x2="546.94" y2="582.41" stroke="#6a6a6a" stroke-width="1.0"/>
<line x1="542.44" y1="549.00" x2="551.44" y2="549.00" stroke="#333" stroke-width="1.0"/>
<line x1="546.94" y1="594.12" x2="546.94" y2="607.43" stroke="#6a6a6a" stroke-width="1.0"/>
<line x1="542.44" y1="607.43" x2="551.44" y2="607.43" stroke="#333" stroke-width="1.0"/>
<rect x="539.14" y="582.41" width="15.60" height="11.71" fill="#f47f7a" stroke="#333" stroke-width="1"/>
<line x1="539.14" y1="588.26" x2="554.74" y2="588.26" stroke="#333" stroke-width="1.1"/>
<line x1="570.80" y1="564.17" x2="570.80" y2="583.34" stroke="#6a6a6a" stroke-width="1.0"/>
<line x1="566.30" y1="564.17" x2="575.30" y2="564.17" stroke="#333" stroke-width="1.0"/>
<line x1="570.80" y1="596.25" x2="570.80" y2="608.63" stroke="#6a6a6a" stroke-width="1.0"/>
<line x1="566.30" y1="608.63" x2="575.30" y2="608.63" stroke="#333" stroke-width="1.0"/>
<rect x="563.00" y="583.34" width="15.60" height="12.91" fill="#f47f7a" stroke="#333" stroke-width="1"/>
<line x1="563.00" y1="589.86" x2="578.60" y2="589.86" stroke="#333" stroke-width="1.1"/>
<line x1="594.66" y1="566.57" x2="594.66" y2="583.34" stroke="#6a6a6a" stroke-width="1.0"/>
<line x1="590.16" y1="566.57" x2="599.16" y2="566.57" stroke="#333" stroke-width="1.0"/>
<line x1="594.66" y1="594.65" x2="594.66" y2="607.43" stroke="#6a6a6a" stroke-width="1.0"/>
<line x1="590.16" y1="607.43" x2="599.16" y2="607.43" stroke="#333" stroke-width="1.0"/>
<rect x="586.86" y="583.34" width="15.60" height="11.31" fill="#f47f7a" stroke="#333" stroke-width="1"/>
<line x1="586.86" y1="588.26" x2="602.46" y2="588.26" stroke="#333" stroke-width="1.1"/>
<line x1="618.52" y1="584.54" x2="618.52" y2="590.39" stroke="#6a6a6a" stroke-width="1.0"/>
<line x1="614.02" y1="584.54" x2="623.02" y2="584.54" stroke="#333" stroke-width="1.0"/>
<line x1="618.52" y1="602.77" x2="618.52" y2="603.44" stroke="#6a6a6a" stroke-width="1.0"/>
<line x1="614.02" y1="603.44" x2="623.02" y2="603.44" stroke="#333" stroke-width="1.0"/>
<rect x="610.72" y="590.39" width="15.60" height="12.38" fill="#f47f7a" stroke="#333" stroke-width="1"/>
<line x1="610.72" y1="597.58" x2="626.32" y2="597.58" stroke="#333" stroke-width="1.1"/>
<line x1="435.30" y1="510.80" x2="435.30" y2="643.45" stroke="#1e1e1e" stroke-width="1.6"/>
<line x1="434.65" y1="642.80" x2="634.00" y2="642.80" stroke="#1e1e1e" stroke-width="1.6"/>
<line x1="429.80" y1="642.80" x2="435.30" y2="642.80" stroke="#1e1e1e" stroke-width="1.6"/>
<text x="426.90" y="647.20" font-size="13.2" text-anchor="end" fill="#111" letter-spacing="-0.35">0</text>
<line x1="429.80" y1="616.40" x2="435.30" y2="616.40" stroke="#1e1e1e" stroke-width="1.6"/>
<text x="426.90" y="620.80" font-size="13.2" text-anchor="end" fill="#111" letter-spacing="-0.35">200</text>
<line x1="429.80" y1="590.00" x2="435.30" y2="590.00" stroke="#1e1e1e" stroke-width="1.6"/>
<text x="426.90" y="594.40" font-size="13.2" text-anchor="end" fill="#111" letter-spacing="-0.35">400</text>
<line x1="429.80" y1="563.60" x2="435.30" y2="563.60" stroke="#1e1e1e" stroke-width="1.6"/>
<text x="426.90" y="568.00" font-size="13.2" text-anchor="end" fill="#111" letter-spacing="-0.35">600</text>
<line x1="429.80" y1="537.20" x2="435.30" y2="537.20" stroke="#1e1e1e" stroke-width="1.6"/>
<text x="426.90" y="541.60" font-size="13.2" text-anchor="end" fill="#111" letter-spacing="-0.35">800</text>
<line x1="429.80" y1="510.80" x2="435.30" y2="510.80" stroke="#1e1e1e" stroke-width="1.6"/>
<text x="426.90" y="515.20" font-size="13.2" text-anchor="end" fill="#111" letter-spacing="-0.35">1000</text>
<line x1="451.50" y1="642.80" x2="451.50" y2="648.90" stroke="#1e1e1e" stroke-width="1.6"/>
<line x1="475.36" y1="642.80" x2="475.36" y2="648.90" stroke="#1e1e1e" stroke-width="1.6"/>
<line x1="499.22" y1="642.80" x2="499.22" y2="648.90" stroke="#1e1e1e" stroke-width="1.6"/>
<line x1="523.08" y1="642.80" x2="523.08" y2="648.90" stroke="#1e1e1e" stroke-width="1.6"/>
<line x1="546.94" y1="642.80" x2="546.94" y2="648.90" stroke="#1e1e1e" stroke-width="1.6"/>
<line x1="570.80" y1="642.80" x2="570.80" y2="648.90" stroke="#1e1e1e" stroke-width="1.6"/>
<line x1="594.66" y1="642.80" x2="594.66" y2="648.90" stroke="#1e1e1e" stroke-width="1.6"/>
<line x1="618.52" y1="642.80" x2="618.52" y2="648.90" stroke="#1e1e1e" stroke-width="1.6"/>
<text x="451.65" y="662.70" font-size="13.2" text-anchor="middle" fill="#111" letter-spacing="-0.3">3</text>
<text x="475.51" y="662.70" font-size="13.2" text-anchor="middle" fill="#111" letter-spacing="-0.3">4</text>
<text x="499.37" y="662.70" font-size="13.2" text-anchor="middle" fill="#111" letter-spacing="-0.3">5</text>
<text x="523.23" y="662.70" font-size="13.2" text-anchor="middle" fill="#111" letter-spacing="-0.3">6</text>
<text x="547.09" y="662.70" font-size="13.2" text-anchor="middle" fill="#111" letter-spacing="-0.3">7</text>
<text x="570.95" y="662.70" font-size="13.2" text-anchor="middle" fill="#111" letter-spacing="-0.3">8</text>
<text x="594.81" y="662.70" font-size="13.2" text-anchor="middle" fill="#111" letter-spacing="-0.3">9</text>
<text x="618.67" y="662.70" font-size="13.2" text-anchor="middle" fill="#111" letter-spacing="-0.3">10</text>
<text x="535.20" y="681.60" font-size="12.4" text-anchor="middle" fill="#111">Sleep duration (h)</text>
<text x="392.60" y="576.60" font-size="12.4" text-anchor="middle" fill="#111" transform="rotate(-90 392.6 576.6)">PVT median reaction time (ms)</text>
</svg></body></html>
